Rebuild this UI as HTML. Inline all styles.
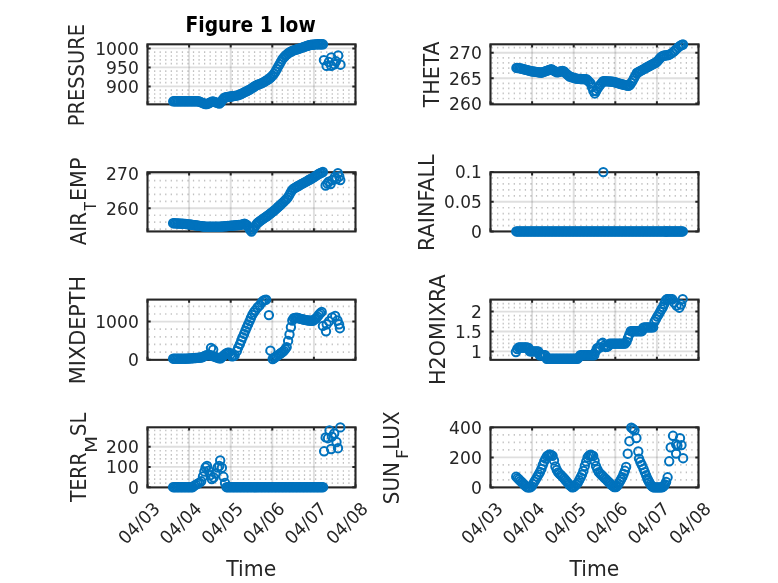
<!DOCTYPE html>
<html><head><meta charset="utf-8"><title>Figure 1 low</title>
<style>html,body{margin:0;padding:0;background:#fff}svg{display:block}</style></head>
<body>
<svg width="778" height="583" viewBox="0 0 778 583" font-family='"DejaVu Sans Condensed","Liberation Sans",sans-serif'>
<rect width="778" height="583" fill="#fff"/>
<rect x="147.5" y="44.3" width="208.00" height="60.05" fill="#fff"/>
<line x1="148.50" y1="101.60" x2="355.50" y2="101.60" stroke="#1a1a1a" stroke-opacity="0.27" stroke-width="1.7" stroke-dasharray="1.25 4.30"/>
<line x1="148.50" y1="97.80" x2="355.50" y2="97.80" stroke="#1a1a1a" stroke-opacity="0.27" stroke-width="1.7" stroke-dasharray="1.25 4.30"/>
<line x1="148.50" y1="94.00" x2="355.50" y2="94.00" stroke="#1a1a1a" stroke-opacity="0.27" stroke-width="1.7" stroke-dasharray="1.25 4.30"/>
<line x1="148.50" y1="90.20" x2="355.50" y2="90.20" stroke="#1a1a1a" stroke-opacity="0.27" stroke-width="1.7" stroke-dasharray="1.25 4.30"/>
<line x1="148.50" y1="82.60" x2="355.50" y2="82.60" stroke="#1a1a1a" stroke-opacity="0.27" stroke-width="1.7" stroke-dasharray="1.25 4.30"/>
<line x1="148.50" y1="78.80" x2="355.50" y2="78.80" stroke="#1a1a1a" stroke-opacity="0.27" stroke-width="1.7" stroke-dasharray="1.25 4.30"/>
<line x1="148.50" y1="75.00" x2="355.50" y2="75.00" stroke="#1a1a1a" stroke-opacity="0.27" stroke-width="1.7" stroke-dasharray="1.25 4.30"/>
<line x1="148.50" y1="71.20" x2="355.50" y2="71.20" stroke="#1a1a1a" stroke-opacity="0.27" stroke-width="1.7" stroke-dasharray="1.25 4.30"/>
<line x1="148.50" y1="63.60" x2="355.50" y2="63.60" stroke="#1a1a1a" stroke-opacity="0.27" stroke-width="1.7" stroke-dasharray="1.25 4.30"/>
<line x1="148.50" y1="59.80" x2="355.50" y2="59.80" stroke="#1a1a1a" stroke-opacity="0.27" stroke-width="1.7" stroke-dasharray="1.25 4.30"/>
<line x1="148.50" y1="56.00" x2="355.50" y2="56.00" stroke="#1a1a1a" stroke-opacity="0.27" stroke-width="1.7" stroke-dasharray="1.25 4.30"/>
<line x1="148.50" y1="52.20" x2="355.50" y2="52.20" stroke="#1a1a1a" stroke-opacity="0.27" stroke-width="1.7" stroke-dasharray="1.25 4.30"/>
<line x1="189.10" y1="44.3" x2="189.10" y2="104.35" stroke="#262626" stroke-opacity="0.15" stroke-width="1.9"/>
<line x1="230.70" y1="44.3" x2="230.70" y2="104.35" stroke="#262626" stroke-opacity="0.15" stroke-width="1.9"/>
<line x1="272.30" y1="44.3" x2="272.30" y2="104.35" stroke="#262626" stroke-opacity="0.15" stroke-width="1.9"/>
<line x1="313.90" y1="44.3" x2="313.90" y2="104.35" stroke="#262626" stroke-opacity="0.15" stroke-width="1.9"/>
<line x1="147.5" y1="86.40" x2="355.5" y2="86.40" stroke="#262626" stroke-opacity="0.15" stroke-width="1.9"/>
<line x1="147.5" y1="67.40" x2="355.5" y2="67.40" stroke="#262626" stroke-opacity="0.15" stroke-width="1.9"/>
<line x1="147.5" y1="48.40" x2="355.5" y2="48.40" stroke="#262626" stroke-opacity="0.15" stroke-width="1.9"/>
<rect x="490.5" y="44.3" width="208.00" height="60.05" fill="#fff"/>
<line x1="491.50" y1="98.52" x2="698.50" y2="98.52" stroke="#1a1a1a" stroke-opacity="0.27" stroke-width="1.7" stroke-dasharray="1.25 4.30"/>
<line x1="491.50" y1="93.44" x2="698.50" y2="93.44" stroke="#1a1a1a" stroke-opacity="0.27" stroke-width="1.7" stroke-dasharray="1.25 4.30"/>
<line x1="491.50" y1="88.36" x2="698.50" y2="88.36" stroke="#1a1a1a" stroke-opacity="0.27" stroke-width="1.7" stroke-dasharray="1.25 4.30"/>
<line x1="491.50" y1="83.28" x2="698.50" y2="83.28" stroke="#1a1a1a" stroke-opacity="0.27" stroke-width="1.7" stroke-dasharray="1.25 4.30"/>
<line x1="491.50" y1="73.12" x2="698.50" y2="73.12" stroke="#1a1a1a" stroke-opacity="0.27" stroke-width="1.7" stroke-dasharray="1.25 4.30"/>
<line x1="491.50" y1="68.04" x2="698.50" y2="68.04" stroke="#1a1a1a" stroke-opacity="0.27" stroke-width="1.7" stroke-dasharray="1.25 4.30"/>
<line x1="491.50" y1="62.96" x2="698.50" y2="62.96" stroke="#1a1a1a" stroke-opacity="0.27" stroke-width="1.7" stroke-dasharray="1.25 4.30"/>
<line x1="491.50" y1="57.88" x2="698.50" y2="57.88" stroke="#1a1a1a" stroke-opacity="0.27" stroke-width="1.7" stroke-dasharray="1.25 4.30"/>
<line x1="491.50" y1="47.72" x2="698.50" y2="47.72" stroke="#1a1a1a" stroke-opacity="0.27" stroke-width="1.7" stroke-dasharray="1.25 4.30"/>
<line x1="532.10" y1="44.3" x2="532.10" y2="104.35" stroke="#262626" stroke-opacity="0.15" stroke-width="1.9"/>
<line x1="573.70" y1="44.3" x2="573.70" y2="104.35" stroke="#262626" stroke-opacity="0.15" stroke-width="1.9"/>
<line x1="615.30" y1="44.3" x2="615.30" y2="104.35" stroke="#262626" stroke-opacity="0.15" stroke-width="1.9"/>
<line x1="656.90" y1="44.3" x2="656.90" y2="104.35" stroke="#262626" stroke-opacity="0.15" stroke-width="1.9"/>
<line x1="490.5" y1="78.20" x2="698.5" y2="78.20" stroke="#262626" stroke-opacity="0.15" stroke-width="1.9"/>
<line x1="490.5" y1="52.80" x2="698.5" y2="52.80" stroke="#262626" stroke-opacity="0.15" stroke-width="1.9"/>
<rect x="147.5" y="172.2" width="208.00" height="59.25" fill="#fff"/>
<line x1="148.50" y1="229.12" x2="355.50" y2="229.12" stroke="#1a1a1a" stroke-opacity="0.27" stroke-width="1.7" stroke-dasharray="1.25 4.30"/>
<line x1="148.50" y1="222.18" x2="355.50" y2="222.18" stroke="#1a1a1a" stroke-opacity="0.27" stroke-width="1.7" stroke-dasharray="1.25 4.30"/>
<line x1="148.50" y1="215.24" x2="355.50" y2="215.24" stroke="#1a1a1a" stroke-opacity="0.27" stroke-width="1.7" stroke-dasharray="1.25 4.30"/>
<line x1="148.50" y1="201.36" x2="355.50" y2="201.36" stroke="#1a1a1a" stroke-opacity="0.27" stroke-width="1.7" stroke-dasharray="1.25 4.30"/>
<line x1="148.50" y1="194.42" x2="355.50" y2="194.42" stroke="#1a1a1a" stroke-opacity="0.27" stroke-width="1.7" stroke-dasharray="1.25 4.30"/>
<line x1="148.50" y1="187.48" x2="355.50" y2="187.48" stroke="#1a1a1a" stroke-opacity="0.27" stroke-width="1.7" stroke-dasharray="1.25 4.30"/>
<line x1="148.50" y1="180.54" x2="355.50" y2="180.54" stroke="#1a1a1a" stroke-opacity="0.27" stroke-width="1.7" stroke-dasharray="1.25 4.30"/>
<line x1="189.10" y1="172.2" x2="189.10" y2="231.45" stroke="#262626" stroke-opacity="0.15" stroke-width="1.9"/>
<line x1="230.70" y1="172.2" x2="230.70" y2="231.45" stroke="#262626" stroke-opacity="0.15" stroke-width="1.9"/>
<line x1="272.30" y1="172.2" x2="272.30" y2="231.45" stroke="#262626" stroke-opacity="0.15" stroke-width="1.9"/>
<line x1="313.90" y1="172.2" x2="313.90" y2="231.45" stroke="#262626" stroke-opacity="0.15" stroke-width="1.9"/>
<line x1="147.5" y1="208.30" x2="355.5" y2="208.30" stroke="#262626" stroke-opacity="0.15" stroke-width="1.9"/>
<line x1="147.5" y1="173.60" x2="355.5" y2="173.60" stroke="#262626" stroke-opacity="0.15" stroke-width="1.9"/>
<rect x="490.5" y="172.2" width="208.00" height="59.25" fill="#fff"/>
<line x1="491.50" y1="225.64" x2="698.50" y2="225.64" stroke="#1a1a1a" stroke-opacity="0.27" stroke-width="1.7" stroke-dasharray="1.25 4.30"/>
<line x1="491.50" y1="219.68" x2="698.50" y2="219.68" stroke="#1a1a1a" stroke-opacity="0.27" stroke-width="1.7" stroke-dasharray="1.25 4.30"/>
<line x1="491.50" y1="213.72" x2="698.50" y2="213.72" stroke="#1a1a1a" stroke-opacity="0.27" stroke-width="1.7" stroke-dasharray="1.25 4.30"/>
<line x1="491.50" y1="207.76" x2="698.50" y2="207.76" stroke="#1a1a1a" stroke-opacity="0.27" stroke-width="1.7" stroke-dasharray="1.25 4.30"/>
<line x1="491.50" y1="195.84" x2="698.50" y2="195.84" stroke="#1a1a1a" stroke-opacity="0.27" stroke-width="1.7" stroke-dasharray="1.25 4.30"/>
<line x1="491.50" y1="189.88" x2="698.50" y2="189.88" stroke="#1a1a1a" stroke-opacity="0.27" stroke-width="1.7" stroke-dasharray="1.25 4.30"/>
<line x1="491.50" y1="183.92" x2="698.50" y2="183.92" stroke="#1a1a1a" stroke-opacity="0.27" stroke-width="1.7" stroke-dasharray="1.25 4.30"/>
<line x1="491.50" y1="177.96" x2="698.50" y2="177.96" stroke="#1a1a1a" stroke-opacity="0.27" stroke-width="1.7" stroke-dasharray="1.25 4.30"/>
<line x1="532.10" y1="172.2" x2="532.10" y2="231.45" stroke="#262626" stroke-opacity="0.15" stroke-width="1.9"/>
<line x1="573.70" y1="172.2" x2="573.70" y2="231.45" stroke="#262626" stroke-opacity="0.15" stroke-width="1.9"/>
<line x1="615.30" y1="172.2" x2="615.30" y2="231.45" stroke="#262626" stroke-opacity="0.15" stroke-width="1.9"/>
<line x1="656.90" y1="172.2" x2="656.90" y2="231.45" stroke="#262626" stroke-opacity="0.15" stroke-width="1.9"/>
<line x1="490.5" y1="201.80" x2="698.5" y2="201.80" stroke="#262626" stroke-opacity="0.15" stroke-width="1.9"/>
<rect x="147.5" y="299.6" width="208.00" height="60.25" fill="#fff"/>
<line x1="148.50" y1="352.08" x2="355.50" y2="352.08" stroke="#1a1a1a" stroke-opacity="0.27" stroke-width="1.7" stroke-dasharray="1.25 4.30"/>
<line x1="148.50" y1="344.46" x2="355.50" y2="344.46" stroke="#1a1a1a" stroke-opacity="0.27" stroke-width="1.7" stroke-dasharray="1.25 4.30"/>
<line x1="148.50" y1="336.84" x2="355.50" y2="336.84" stroke="#1a1a1a" stroke-opacity="0.27" stroke-width="1.7" stroke-dasharray="1.25 4.30"/>
<line x1="148.50" y1="329.22" x2="355.50" y2="329.22" stroke="#1a1a1a" stroke-opacity="0.27" stroke-width="1.7" stroke-dasharray="1.25 4.30"/>
<line x1="148.50" y1="313.98" x2="355.50" y2="313.98" stroke="#1a1a1a" stroke-opacity="0.27" stroke-width="1.7" stroke-dasharray="1.25 4.30"/>
<line x1="148.50" y1="306.36" x2="355.50" y2="306.36" stroke="#1a1a1a" stroke-opacity="0.27" stroke-width="1.7" stroke-dasharray="1.25 4.30"/>
<line x1="189.10" y1="299.6" x2="189.10" y2="359.85" stroke="#262626" stroke-opacity="0.15" stroke-width="1.9"/>
<line x1="230.70" y1="299.6" x2="230.70" y2="359.85" stroke="#262626" stroke-opacity="0.15" stroke-width="1.9"/>
<line x1="272.30" y1="299.6" x2="272.30" y2="359.85" stroke="#262626" stroke-opacity="0.15" stroke-width="1.9"/>
<line x1="313.90" y1="299.6" x2="313.90" y2="359.85" stroke="#262626" stroke-opacity="0.15" stroke-width="1.9"/>
<line x1="147.5" y1="321.60" x2="355.5" y2="321.60" stroke="#262626" stroke-opacity="0.15" stroke-width="1.9"/>
<rect x="490.5" y="299.6" width="208.00" height="60.25" fill="#fff"/>
<line x1="491.50" y1="355.38" x2="698.50" y2="355.38" stroke="#1a1a1a" stroke-opacity="0.27" stroke-width="1.7" stroke-dasharray="1.25 4.30"/>
<line x1="491.50" y1="347.42" x2="698.50" y2="347.42" stroke="#1a1a1a" stroke-opacity="0.27" stroke-width="1.7" stroke-dasharray="1.25 4.30"/>
<line x1="491.50" y1="343.44" x2="698.50" y2="343.44" stroke="#1a1a1a" stroke-opacity="0.27" stroke-width="1.7" stroke-dasharray="1.25 4.30"/>
<line x1="491.50" y1="339.46" x2="698.50" y2="339.46" stroke="#1a1a1a" stroke-opacity="0.27" stroke-width="1.7" stroke-dasharray="1.25 4.30"/>
<line x1="491.50" y1="335.48" x2="698.50" y2="335.48" stroke="#1a1a1a" stroke-opacity="0.27" stroke-width="1.7" stroke-dasharray="1.25 4.30"/>
<line x1="491.50" y1="327.52" x2="698.50" y2="327.52" stroke="#1a1a1a" stroke-opacity="0.27" stroke-width="1.7" stroke-dasharray="1.25 4.30"/>
<line x1="491.50" y1="323.54" x2="698.50" y2="323.54" stroke="#1a1a1a" stroke-opacity="0.27" stroke-width="1.7" stroke-dasharray="1.25 4.30"/>
<line x1="491.50" y1="319.56" x2="698.50" y2="319.56" stroke="#1a1a1a" stroke-opacity="0.27" stroke-width="1.7" stroke-dasharray="1.25 4.30"/>
<line x1="491.50" y1="315.58" x2="698.50" y2="315.58" stroke="#1a1a1a" stroke-opacity="0.27" stroke-width="1.7" stroke-dasharray="1.25 4.30"/>
<line x1="491.50" y1="307.62" x2="698.50" y2="307.62" stroke="#1a1a1a" stroke-opacity="0.27" stroke-width="1.7" stroke-dasharray="1.25 4.30"/>
<line x1="491.50" y1="303.64" x2="698.50" y2="303.64" stroke="#1a1a1a" stroke-opacity="0.27" stroke-width="1.7" stroke-dasharray="1.25 4.30"/>
<line x1="532.10" y1="299.6" x2="532.10" y2="359.85" stroke="#262626" stroke-opacity="0.15" stroke-width="1.9"/>
<line x1="573.70" y1="299.6" x2="573.70" y2="359.85" stroke="#262626" stroke-opacity="0.15" stroke-width="1.9"/>
<line x1="615.30" y1="299.6" x2="615.30" y2="359.85" stroke="#262626" stroke-opacity="0.15" stroke-width="1.9"/>
<line x1="656.90" y1="299.6" x2="656.90" y2="359.85" stroke="#262626" stroke-opacity="0.15" stroke-width="1.9"/>
<line x1="490.5" y1="351.40" x2="698.5" y2="351.40" stroke="#262626" stroke-opacity="0.15" stroke-width="1.9"/>
<line x1="490.5" y1="331.50" x2="698.5" y2="331.50" stroke="#262626" stroke-opacity="0.15" stroke-width="1.9"/>
<line x1="490.5" y1="311.60" x2="698.5" y2="311.60" stroke="#262626" stroke-opacity="0.15" stroke-width="1.9"/>
<rect x="147.5" y="427.3" width="208.00" height="60.10" fill="#fff"/>
<line x1="148.50" y1="483.15" x2="355.50" y2="483.15" stroke="#1a1a1a" stroke-opacity="0.27" stroke-width="1.7" stroke-dasharray="1.25 4.30"/>
<line x1="148.50" y1="479.10" x2="355.50" y2="479.10" stroke="#1a1a1a" stroke-opacity="0.27" stroke-width="1.7" stroke-dasharray="1.25 4.30"/>
<line x1="148.50" y1="475.05" x2="355.50" y2="475.05" stroke="#1a1a1a" stroke-opacity="0.27" stroke-width="1.7" stroke-dasharray="1.25 4.30"/>
<line x1="148.50" y1="471.00" x2="355.50" y2="471.00" stroke="#1a1a1a" stroke-opacity="0.27" stroke-width="1.7" stroke-dasharray="1.25 4.30"/>
<line x1="148.50" y1="462.90" x2="355.50" y2="462.90" stroke="#1a1a1a" stroke-opacity="0.27" stroke-width="1.7" stroke-dasharray="1.25 4.30"/>
<line x1="148.50" y1="458.85" x2="355.50" y2="458.85" stroke="#1a1a1a" stroke-opacity="0.27" stroke-width="1.7" stroke-dasharray="1.25 4.30"/>
<line x1="148.50" y1="454.80" x2="355.50" y2="454.80" stroke="#1a1a1a" stroke-opacity="0.27" stroke-width="1.7" stroke-dasharray="1.25 4.30"/>
<line x1="148.50" y1="450.75" x2="355.50" y2="450.75" stroke="#1a1a1a" stroke-opacity="0.27" stroke-width="1.7" stroke-dasharray="1.25 4.30"/>
<line x1="148.50" y1="442.65" x2="355.50" y2="442.65" stroke="#1a1a1a" stroke-opacity="0.27" stroke-width="1.7" stroke-dasharray="1.25 4.30"/>
<line x1="148.50" y1="438.60" x2="355.50" y2="438.60" stroke="#1a1a1a" stroke-opacity="0.27" stroke-width="1.7" stroke-dasharray="1.25 4.30"/>
<line x1="148.50" y1="434.55" x2="355.50" y2="434.55" stroke="#1a1a1a" stroke-opacity="0.27" stroke-width="1.7" stroke-dasharray="1.25 4.30"/>
<line x1="148.50" y1="430.50" x2="355.50" y2="430.50" stroke="#1a1a1a" stroke-opacity="0.27" stroke-width="1.7" stroke-dasharray="1.25 4.30"/>
<line x1="189.10" y1="427.3" x2="189.10" y2="487.4" stroke="#262626" stroke-opacity="0.15" stroke-width="1.9"/>
<line x1="230.70" y1="427.3" x2="230.70" y2="487.4" stroke="#262626" stroke-opacity="0.15" stroke-width="1.9"/>
<line x1="272.30" y1="427.3" x2="272.30" y2="487.4" stroke="#262626" stroke-opacity="0.15" stroke-width="1.9"/>
<line x1="313.90" y1="427.3" x2="313.90" y2="487.4" stroke="#262626" stroke-opacity="0.15" stroke-width="1.9"/>
<line x1="147.5" y1="466.90" x2="355.5" y2="466.90" stroke="#262626" stroke-opacity="0.15" stroke-width="1.9"/>
<line x1="147.5" y1="446.70" x2="355.5" y2="446.70" stroke="#262626" stroke-opacity="0.15" stroke-width="1.9"/>
<rect x="490.5" y="427.3" width="208.00" height="60.10" fill="#fff"/>
<line x1="491.50" y1="479.90" x2="698.50" y2="479.90" stroke="#1a1a1a" stroke-opacity="0.27" stroke-width="1.7" stroke-dasharray="1.25 4.30"/>
<line x1="491.50" y1="472.40" x2="698.50" y2="472.40" stroke="#1a1a1a" stroke-opacity="0.27" stroke-width="1.7" stroke-dasharray="1.25 4.30"/>
<line x1="491.50" y1="464.90" x2="698.50" y2="464.90" stroke="#1a1a1a" stroke-opacity="0.27" stroke-width="1.7" stroke-dasharray="1.25 4.30"/>
<line x1="491.50" y1="449.90" x2="698.50" y2="449.90" stroke="#1a1a1a" stroke-opacity="0.27" stroke-width="1.7" stroke-dasharray="1.25 4.30"/>
<line x1="491.50" y1="442.40" x2="698.50" y2="442.40" stroke="#1a1a1a" stroke-opacity="0.27" stroke-width="1.7" stroke-dasharray="1.25 4.30"/>
<line x1="491.50" y1="434.90" x2="698.50" y2="434.90" stroke="#1a1a1a" stroke-opacity="0.27" stroke-width="1.7" stroke-dasharray="1.25 4.30"/>
<line x1="532.10" y1="427.3" x2="532.10" y2="487.4" stroke="#262626" stroke-opacity="0.15" stroke-width="1.9"/>
<line x1="573.70" y1="427.3" x2="573.70" y2="487.4" stroke="#262626" stroke-opacity="0.15" stroke-width="1.9"/>
<line x1="615.30" y1="427.3" x2="615.30" y2="487.4" stroke="#262626" stroke-opacity="0.15" stroke-width="1.9"/>
<line x1="656.90" y1="427.3" x2="656.90" y2="487.4" stroke="#262626" stroke-opacity="0.15" stroke-width="1.9"/>
<line x1="490.5" y1="457.40" x2="698.5" y2="457.40" stroke="#262626" stroke-opacity="0.15" stroke-width="1.9"/>
<path d="M147.50 104.35v-3.2M147.50 44.3v3.2" stroke="#262626" stroke-width="2.0" fill="none"/>
<path d="M189.10 104.35v-3.2M189.10 44.3v3.2" stroke="#262626" stroke-width="2.0" fill="none"/>
<path d="M230.70 104.35v-3.2M230.70 44.3v3.2" stroke="#262626" stroke-width="2.0" fill="none"/>
<path d="M272.30 104.35v-3.2M272.30 44.3v3.2" stroke="#262626" stroke-width="2.0" fill="none"/>
<path d="M313.90 104.35v-3.2M313.90 44.3v3.2" stroke="#262626" stroke-width="2.0" fill="none"/>
<path d="M355.50 104.35v-3.2M355.50 44.3v3.2" stroke="#262626" stroke-width="2.0" fill="none"/>
<path d="M147.5 86.40h3.2M355.5 86.40h-3.2" stroke="#262626" stroke-width="2.0" fill="none"/>
<path d="M147.5 67.40h3.2M355.5 67.40h-3.2" stroke="#262626" stroke-width="2.0" fill="none"/>
<path d="M147.5 48.40h3.2M355.5 48.40h-3.2" stroke="#262626" stroke-width="2.0" fill="none"/>
<rect x="147.5" y="44.3" width="208.00" height="60.05" fill="none" stroke="#262626" stroke-width="2.1"/>
<text x="106.10" y="92.80" font-size="18.0" textLength="32.70" lengthAdjust="spacingAndGlyphs" fill="#262626">900</text>
<text x="106.10" y="73.80" font-size="18.0" textLength="32.70" lengthAdjust="spacingAndGlyphs" fill="#262626">950</text>
<text x="95.20" y="54.80" font-size="18.0" textLength="43.60" lengthAdjust="spacingAndGlyphs" fill="#262626">1000</text>
<path d="M490.50 104.35v-3.2M490.50 44.3v3.2" stroke="#262626" stroke-width="2.0" fill="none"/>
<path d="M532.10 104.35v-3.2M532.10 44.3v3.2" stroke="#262626" stroke-width="2.0" fill="none"/>
<path d="M573.70 104.35v-3.2M573.70 44.3v3.2" stroke="#262626" stroke-width="2.0" fill="none"/>
<path d="M615.30 104.35v-3.2M615.30 44.3v3.2" stroke="#262626" stroke-width="2.0" fill="none"/>
<path d="M656.90 104.35v-3.2M656.90 44.3v3.2" stroke="#262626" stroke-width="2.0" fill="none"/>
<path d="M698.50 104.35v-3.2M698.50 44.3v3.2" stroke="#262626" stroke-width="2.0" fill="none"/>
<path d="M490.5 103.60h3.2M698.5 103.60h-3.2" stroke="#262626" stroke-width="2.0" fill="none"/>
<path d="M490.5 78.20h3.2M698.5 78.20h-3.2" stroke="#262626" stroke-width="2.0" fill="none"/>
<path d="M490.5 52.80h3.2M698.5 52.80h-3.2" stroke="#262626" stroke-width="2.0" fill="none"/>
<rect x="490.5" y="44.3" width="208.00" height="60.05" fill="none" stroke="#262626" stroke-width="2.1"/>
<text x="449.10" y="110.00" font-size="18.0" textLength="32.70" lengthAdjust="spacingAndGlyphs" fill="#262626">260</text>
<text x="449.10" y="84.60" font-size="18.0" textLength="32.70" lengthAdjust="spacingAndGlyphs" fill="#262626">265</text>
<text x="449.10" y="59.20" font-size="18.0" textLength="32.70" lengthAdjust="spacingAndGlyphs" fill="#262626">270</text>
<path d="M147.50 231.45v-3.2M147.50 172.2v3.2" stroke="#262626" stroke-width="2.0" fill="none"/>
<path d="M189.10 231.45v-3.2M189.10 172.2v3.2" stroke="#262626" stroke-width="2.0" fill="none"/>
<path d="M230.70 231.45v-3.2M230.70 172.2v3.2" stroke="#262626" stroke-width="2.0" fill="none"/>
<path d="M272.30 231.45v-3.2M272.30 172.2v3.2" stroke="#262626" stroke-width="2.0" fill="none"/>
<path d="M313.90 231.45v-3.2M313.90 172.2v3.2" stroke="#262626" stroke-width="2.0" fill="none"/>
<path d="M355.50 231.45v-3.2M355.50 172.2v3.2" stroke="#262626" stroke-width="2.0" fill="none"/>
<path d="M147.5 208.30h3.2M355.5 208.30h-3.2" stroke="#262626" stroke-width="2.0" fill="none"/>
<path d="M147.5 173.60h3.2M355.5 173.60h-3.2" stroke="#262626" stroke-width="2.0" fill="none"/>
<rect x="147.5" y="172.2" width="208.00" height="59.25" fill="none" stroke="#262626" stroke-width="2.1"/>
<text x="106.10" y="214.70" font-size="18.0" textLength="32.70" lengthAdjust="spacingAndGlyphs" fill="#262626">260</text>
<text x="106.10" y="180.00" font-size="18.0" textLength="32.70" lengthAdjust="spacingAndGlyphs" fill="#262626">270</text>
<path d="M490.50 231.45v-3.2M490.50 172.2v3.2" stroke="#262626" stroke-width="2.0" fill="none"/>
<path d="M532.10 231.45v-3.2M532.10 172.2v3.2" stroke="#262626" stroke-width="2.0" fill="none"/>
<path d="M573.70 231.45v-3.2M573.70 172.2v3.2" stroke="#262626" stroke-width="2.0" fill="none"/>
<path d="M615.30 231.45v-3.2M615.30 172.2v3.2" stroke="#262626" stroke-width="2.0" fill="none"/>
<path d="M656.90 231.45v-3.2M656.90 172.2v3.2" stroke="#262626" stroke-width="2.0" fill="none"/>
<path d="M698.50 231.45v-3.2M698.50 172.2v3.2" stroke="#262626" stroke-width="2.0" fill="none"/>
<path d="M490.5 231.60h3.2M698.5 231.60h-3.2" stroke="#262626" stroke-width="2.0" fill="none"/>
<path d="M490.5 201.80h3.2M698.5 201.80h-3.2" stroke="#262626" stroke-width="2.0" fill="none"/>
<path d="M490.5 172.00h3.2M698.5 172.00h-3.2" stroke="#262626" stroke-width="2.0" fill="none"/>
<rect x="490.5" y="172.2" width="208.00" height="59.25" fill="none" stroke="#262626" stroke-width="2.1"/>
<text x="470.90" y="238.00" font-size="18.0" textLength="10.90" lengthAdjust="spacingAndGlyphs" fill="#262626">0</text>
<text x="444.10" y="208.20" font-size="18.0" textLength="37.70" lengthAdjust="spacingAndGlyphs" fill="#262626">0.05</text>
<text x="455.00" y="178.40" font-size="18.0" textLength="26.80" lengthAdjust="spacingAndGlyphs" fill="#262626">0.1</text>
<path d="M147.50 359.85v-3.2M147.50 299.6v3.2" stroke="#262626" stroke-width="2.0" fill="none"/>
<path d="M189.10 359.85v-3.2M189.10 299.6v3.2" stroke="#262626" stroke-width="2.0" fill="none"/>
<path d="M230.70 359.85v-3.2M230.70 299.6v3.2" stroke="#262626" stroke-width="2.0" fill="none"/>
<path d="M272.30 359.85v-3.2M272.30 299.6v3.2" stroke="#262626" stroke-width="2.0" fill="none"/>
<path d="M313.90 359.85v-3.2M313.90 299.6v3.2" stroke="#262626" stroke-width="2.0" fill="none"/>
<path d="M355.50 359.85v-3.2M355.50 299.6v3.2" stroke="#262626" stroke-width="2.0" fill="none"/>
<path d="M147.5 359.70h3.2M355.5 359.70h-3.2" stroke="#262626" stroke-width="2.0" fill="none"/>
<path d="M147.5 321.60h3.2M355.5 321.60h-3.2" stroke="#262626" stroke-width="2.0" fill="none"/>
<rect x="147.5" y="299.6" width="208.00" height="60.25" fill="none" stroke="#262626" stroke-width="2.1"/>
<text x="127.90" y="366.10" font-size="18.0" textLength="10.90" lengthAdjust="spacingAndGlyphs" fill="#262626">0</text>
<text x="95.20" y="328.00" font-size="18.0" textLength="43.60" lengthAdjust="spacingAndGlyphs" fill="#262626">1000</text>
<path d="M490.50 359.85v-3.2M490.50 299.6v3.2" stroke="#262626" stroke-width="2.0" fill="none"/>
<path d="M532.10 359.85v-3.2M532.10 299.6v3.2" stroke="#262626" stroke-width="2.0" fill="none"/>
<path d="M573.70 359.85v-3.2M573.70 299.6v3.2" stroke="#262626" stroke-width="2.0" fill="none"/>
<path d="M615.30 359.85v-3.2M615.30 299.6v3.2" stroke="#262626" stroke-width="2.0" fill="none"/>
<path d="M656.90 359.85v-3.2M656.90 299.6v3.2" stroke="#262626" stroke-width="2.0" fill="none"/>
<path d="M698.50 359.85v-3.2M698.50 299.6v3.2" stroke="#262626" stroke-width="2.0" fill="none"/>
<path d="M490.5 351.40h3.2M698.5 351.40h-3.2" stroke="#262626" stroke-width="2.0" fill="none"/>
<path d="M490.5 331.50h3.2M698.5 331.50h-3.2" stroke="#262626" stroke-width="2.0" fill="none"/>
<path d="M490.5 311.60h3.2M698.5 311.60h-3.2" stroke="#262626" stroke-width="2.0" fill="none"/>
<rect x="490.5" y="299.6" width="208.00" height="60.25" fill="none" stroke="#262626" stroke-width="2.1"/>
<text x="470.90" y="357.80" font-size="18.0" textLength="10.90" lengthAdjust="spacingAndGlyphs" fill="#262626">1</text>
<text x="455.00" y="337.90" font-size="18.0" textLength="26.80" lengthAdjust="spacingAndGlyphs" fill="#262626">1.5</text>
<text x="470.90" y="318.00" font-size="18.0" textLength="10.90" lengthAdjust="spacingAndGlyphs" fill="#262626">2</text>
<path d="M147.50 487.4v-3.2M147.50 427.3v3.2" stroke="#262626" stroke-width="2.0" fill="none"/>
<path d="M189.10 487.4v-3.2M189.10 427.3v3.2" stroke="#262626" stroke-width="2.0" fill="none"/>
<path d="M230.70 487.4v-3.2M230.70 427.3v3.2" stroke="#262626" stroke-width="2.0" fill="none"/>
<path d="M272.30 487.4v-3.2M272.30 427.3v3.2" stroke="#262626" stroke-width="2.0" fill="none"/>
<path d="M313.90 487.4v-3.2M313.90 427.3v3.2" stroke="#262626" stroke-width="2.0" fill="none"/>
<path d="M355.50 487.4v-3.2M355.50 427.3v3.2" stroke="#262626" stroke-width="2.0" fill="none"/>
<path d="M147.5 487.20h3.2M355.5 487.20h-3.2" stroke="#262626" stroke-width="2.0" fill="none"/>
<path d="M147.5 466.90h3.2M355.5 466.90h-3.2" stroke="#262626" stroke-width="2.0" fill="none"/>
<path d="M147.5 446.70h3.2M355.5 446.70h-3.2" stroke="#262626" stroke-width="2.0" fill="none"/>
<rect x="147.5" y="427.3" width="208.00" height="60.10" fill="none" stroke="#262626" stroke-width="2.1"/>
<text x="127.90" y="493.60" font-size="18.0" textLength="10.90" lengthAdjust="spacingAndGlyphs" fill="#262626">0</text>
<text x="106.10" y="473.30" font-size="18.0" textLength="32.70" lengthAdjust="spacingAndGlyphs" fill="#262626">100</text>
<text x="106.10" y="453.10" font-size="18.0" textLength="32.70" lengthAdjust="spacingAndGlyphs" fill="#262626">200</text>
<text transform="translate(161.10,509.90) rotate(-45)" font-size="18.0" text-anchor="end" textLength="50.0" lengthAdjust="spacingAndGlyphs" fill="#262626">04/03</text>
<text transform="translate(202.70,509.90) rotate(-45)" font-size="18.0" text-anchor="end" textLength="50.0" lengthAdjust="spacingAndGlyphs" fill="#262626">04/04</text>
<text transform="translate(244.30,509.90) rotate(-45)" font-size="18.0" text-anchor="end" textLength="50.0" lengthAdjust="spacingAndGlyphs" fill="#262626">04/05</text>
<text transform="translate(285.90,509.90) rotate(-45)" font-size="18.0" text-anchor="end" textLength="50.0" lengthAdjust="spacingAndGlyphs" fill="#262626">04/06</text>
<text transform="translate(327.50,509.90) rotate(-45)" font-size="18.0" text-anchor="end" textLength="50.0" lengthAdjust="spacingAndGlyphs" fill="#262626">04/07</text>
<text transform="translate(369.10,509.90) rotate(-45)" font-size="18.0" text-anchor="end" textLength="50.0" lengthAdjust="spacingAndGlyphs" fill="#262626">04/08</text>
<path d="M490.50 487.4v-3.2M490.50 427.3v3.2" stroke="#262626" stroke-width="2.0" fill="none"/>
<path d="M532.10 487.4v-3.2M532.10 427.3v3.2" stroke="#262626" stroke-width="2.0" fill="none"/>
<path d="M573.70 487.4v-3.2M573.70 427.3v3.2" stroke="#262626" stroke-width="2.0" fill="none"/>
<path d="M615.30 487.4v-3.2M615.30 427.3v3.2" stroke="#262626" stroke-width="2.0" fill="none"/>
<path d="M656.90 487.4v-3.2M656.90 427.3v3.2" stroke="#262626" stroke-width="2.0" fill="none"/>
<path d="M698.50 487.4v-3.2M698.50 427.3v3.2" stroke="#262626" stroke-width="2.0" fill="none"/>
<path d="M490.5 487.40h3.2M698.5 487.40h-3.2" stroke="#262626" stroke-width="2.0" fill="none"/>
<path d="M490.5 457.40h3.2M698.5 457.40h-3.2" stroke="#262626" stroke-width="2.0" fill="none"/>
<path d="M490.5 427.40h3.2M698.5 427.40h-3.2" stroke="#262626" stroke-width="2.0" fill="none"/>
<rect x="490.5" y="427.3" width="208.00" height="60.10" fill="none" stroke="#262626" stroke-width="2.1"/>
<text x="470.90" y="493.80" font-size="18.0" textLength="10.90" lengthAdjust="spacingAndGlyphs" fill="#262626">0</text>
<text x="449.10" y="463.80" font-size="18.0" textLength="32.70" lengthAdjust="spacingAndGlyphs" fill="#262626">200</text>
<text x="449.10" y="433.80" font-size="18.0" textLength="32.70" lengthAdjust="spacingAndGlyphs" fill="#262626">400</text>
<text transform="translate(504.10,509.90) rotate(-45)" font-size="18.0" text-anchor="end" textLength="50.0" lengthAdjust="spacingAndGlyphs" fill="#262626">04/03</text>
<text transform="translate(545.70,509.90) rotate(-45)" font-size="18.0" text-anchor="end" textLength="50.0" lengthAdjust="spacingAndGlyphs" fill="#262626">04/04</text>
<text transform="translate(587.30,509.90) rotate(-45)" font-size="18.0" text-anchor="end" textLength="50.0" lengthAdjust="spacingAndGlyphs" fill="#262626">04/05</text>
<text transform="translate(628.90,509.90) rotate(-45)" font-size="18.0" text-anchor="end" textLength="50.0" lengthAdjust="spacingAndGlyphs" fill="#262626">04/06</text>
<text transform="translate(670.50,509.90) rotate(-45)" font-size="18.0" text-anchor="end" textLength="50.0" lengthAdjust="spacingAndGlyphs" fill="#262626">04/07</text>
<text transform="translate(712.10,509.90) rotate(-45)" font-size="18.0" text-anchor="end" textLength="50.0" lengthAdjust="spacingAndGlyphs" fill="#262626">04/08</text>
<g fill="none" stroke="#0072BD" stroke-width="2.0">
<circle cx="173.20" cy="101.30" r="4.18"/>
<circle cx="174.60" cy="101.30" r="4.18"/>
<circle cx="176.00" cy="101.30" r="4.18"/>
<circle cx="177.40" cy="101.30" r="4.18"/>
<circle cx="178.80" cy="101.30" r="4.18"/>
<circle cx="180.20" cy="101.30" r="4.18"/>
<circle cx="181.60" cy="101.30" r="4.18"/>
<circle cx="183.00" cy="101.30" r="4.18"/>
<circle cx="184.40" cy="101.30" r="4.18"/>
<circle cx="185.80" cy="101.30" r="4.18"/>
<circle cx="187.20" cy="101.30" r="4.18"/>
<circle cx="188.60" cy="101.30" r="4.18"/>
<circle cx="190.00" cy="101.30" r="4.18"/>
<circle cx="191.40" cy="101.30" r="4.18"/>
<circle cx="192.80" cy="101.30" r="4.18"/>
<circle cx="194.20" cy="101.30" r="4.18"/>
<circle cx="195.60" cy="101.30" r="4.18"/>
<circle cx="197.00" cy="101.30" r="4.18"/>
<circle cx="198.40" cy="101.30" r="4.18"/>
<circle cx="199.80" cy="101.78" r="4.18"/>
<circle cx="201.20" cy="102.35" r="4.18"/>
<circle cx="202.60" cy="102.91" r="4.18"/>
<circle cx="204.00" cy="103.47" r="4.18"/>
<circle cx="205.40" cy="104.04" r="4.18"/>
<circle cx="206.80" cy="104.16" r="4.18"/>
<circle cx="208.20" cy="103.48" r="4.18"/>
<circle cx="209.60" cy="102.80" r="4.18"/>
<circle cx="211.00" cy="102.12" r="4.18"/>
<circle cx="212.40" cy="101.45" r="4.18"/>
<circle cx="213.80" cy="101.69" r="4.18"/>
<circle cx="215.20" cy="102.18" r="4.18"/>
<circle cx="216.60" cy="102.67" r="4.18"/>
<circle cx="218.00" cy="103.17" r="4.18"/>
<circle cx="219.40" cy="103.66" r="4.18"/>
<circle cx="220.80" cy="102.40" r="4.18"/>
<circle cx="222.20" cy="100.44" r="4.18"/>
<circle cx="223.60" cy="98.48" r="4.18"/>
<circle cx="225.00" cy="97.39" r="4.18"/>
<circle cx="226.40" cy="97.17" r="4.18"/>
<circle cx="227.80" cy="96.95" r="4.18"/>
<circle cx="229.20" cy="96.73" r="4.18"/>
<circle cx="230.60" cy="96.52" r="4.18"/>
<circle cx="232.00" cy="96.30" r="4.18"/>
<circle cx="233.40" cy="96.08" r="4.18"/>
<circle cx="234.80" cy="95.86" r="4.18"/>
<circle cx="236.20" cy="95.64" r="4.18"/>
<circle cx="237.60" cy="95.33" r="4.18"/>
<circle cx="239.00" cy="94.84" r="4.18"/>
<circle cx="240.40" cy="94.30" r="4.18"/>
<circle cx="241.80" cy="93.60" r="4.18"/>
<circle cx="243.20" cy="92.90" r="4.18"/>
<circle cx="244.60" cy="92.20" r="4.18"/>
<circle cx="246.00" cy="91.50" r="4.18"/>
<circle cx="247.40" cy="90.80" r="4.18"/>
<circle cx="248.80" cy="90.10" r="4.18"/>
<circle cx="250.20" cy="89.36" r="4.18"/>
<circle cx="251.60" cy="88.42" r="4.18"/>
<circle cx="253.00" cy="87.47" r="4.18"/>
<circle cx="254.40" cy="86.52" r="4.18"/>
<circle cx="255.80" cy="85.57" r="4.18"/>
<circle cx="257.20" cy="84.95" r="4.18"/>
<circle cx="258.60" cy="84.45" r="4.18"/>
<circle cx="260.00" cy="83.96" r="4.18"/>
<circle cx="261.40" cy="83.44" r="4.18"/>
<circle cx="262.80" cy="82.63" r="4.18"/>
<circle cx="264.20" cy="81.83" r="4.18"/>
<circle cx="265.60" cy="81.02" r="4.18"/>
<circle cx="267.00" cy="80.16" r="4.18"/>
<circle cx="268.40" cy="79.22" r="4.18"/>
<circle cx="269.80" cy="78.27" r="4.18"/>
<circle cx="271.20" cy="77.00" r="4.18"/>
<circle cx="272.60" cy="75.40" r="4.18"/>
<circle cx="274.00" cy="73.80" r="4.18"/>
<circle cx="275.40" cy="71.72" r="4.18"/>
<circle cx="276.80" cy="69.17" r="4.18"/>
<circle cx="278.20" cy="66.62" r="4.18"/>
<circle cx="279.60" cy="64.06" r="4.18"/>
<circle cx="281.00" cy="61.60" r="4.18"/>
<circle cx="282.40" cy="59.15" r="4.18"/>
<circle cx="283.80" cy="57.43" r="4.18"/>
<circle cx="285.20" cy="55.84" r="4.18"/>
<circle cx="286.60" cy="54.61" r="4.18"/>
<circle cx="288.00" cy="53.49" r="4.18"/>
<circle cx="289.40" cy="52.45" r="4.18"/>
<circle cx="290.80" cy="51.73" r="4.18"/>
<circle cx="292.20" cy="51.01" r="4.18"/>
<circle cx="293.60" cy="50.37" r="4.18"/>
<circle cx="295.00" cy="49.92" r="4.18"/>
<circle cx="296.40" cy="49.47" r="4.18"/>
<circle cx="297.80" cy="49.02" r="4.18"/>
<circle cx="299.20" cy="48.56" r="4.18"/>
<circle cx="300.60" cy="48.09" r="4.18"/>
<circle cx="302.00" cy="47.62" r="4.18"/>
<circle cx="303.40" cy="47.15" r="4.18"/>
<circle cx="304.80" cy="46.67" r="4.18"/>
<circle cx="306.20" cy="46.20" r="4.18"/>
<circle cx="307.60" cy="45.72" r="4.18"/>
<circle cx="309.00" cy="45.24" r="4.18"/>
<circle cx="310.40" cy="44.86" r="4.18"/>
<circle cx="311.80" cy="44.72" r="4.18"/>
<circle cx="313.20" cy="44.58" r="4.18"/>
<circle cx="314.60" cy="44.45" r="4.18"/>
<circle cx="316.00" cy="44.31" r="4.18"/>
<circle cx="317.40" cy="44.21" r="4.18"/>
<circle cx="318.80" cy="44.23" r="4.18"/>
<circle cx="320.20" cy="44.25" r="4.18"/>
<circle cx="321.60" cy="44.28" r="4.18"/>
<circle cx="323.00" cy="44.30" r="4.18"/>
<circle cx="323.90" cy="60.10" r="4.18"/>
<circle cx="326.60" cy="65.90" r="4.18"/>
<circle cx="328.90" cy="62.00" r="4.18"/>
<circle cx="331.30" cy="57.40" r="4.18"/>
<circle cx="331.30" cy="65.90" r="4.18"/>
<circle cx="334.30" cy="64.30" r="4.18"/>
<circle cx="335.90" cy="61.30" r="4.18"/>
<circle cx="338.20" cy="55.50" r="4.18"/>
<circle cx="340.50" cy="64.70" r="4.18"/>
<circle cx="516.40" cy="67.90" r="4.18"/>
<circle cx="517.80" cy="68.04" r="4.18"/>
<circle cx="519.20" cy="68.18" r="4.18"/>
<circle cx="520.60" cy="68.35" r="4.18"/>
<circle cx="522.00" cy="68.72" r="4.18"/>
<circle cx="523.40" cy="69.10" r="4.18"/>
<circle cx="524.80" cy="69.47" r="4.18"/>
<circle cx="526.20" cy="69.84" r="4.18"/>
<circle cx="527.60" cy="70.21" r="4.18"/>
<circle cx="529.00" cy="70.58" r="4.18"/>
<circle cx="530.40" cy="70.95" r="4.18"/>
<circle cx="531.80" cy="71.31" r="4.18"/>
<circle cx="533.20" cy="71.51" r="4.18"/>
<circle cx="534.60" cy="71.71" r="4.18"/>
<circle cx="536.00" cy="71.91" r="4.18"/>
<circle cx="537.40" cy="72.11" r="4.18"/>
<circle cx="538.80" cy="72.30" r="4.18"/>
<circle cx="540.20" cy="72.50" r="4.18"/>
<circle cx="541.60" cy="72.70" r="4.18"/>
<circle cx="543.00" cy="72.19" r="4.18"/>
<circle cx="544.40" cy="71.69" r="4.18"/>
<circle cx="545.80" cy="71.18" r="4.18"/>
<circle cx="547.20" cy="70.68" r="4.18"/>
<circle cx="548.60" cy="70.17" r="4.18"/>
<circle cx="550.00" cy="69.67" r="4.18"/>
<circle cx="551.40" cy="69.26" r="4.18"/>
<circle cx="552.80" cy="70.07" r="4.18"/>
<circle cx="554.20" cy="70.89" r="4.18"/>
<circle cx="555.60" cy="71.70" r="4.18"/>
<circle cx="557.00" cy="72.35" r="4.18"/>
<circle cx="558.40" cy="72.00" r="4.18"/>
<circle cx="559.80" cy="71.65" r="4.18"/>
<circle cx="561.20" cy="71.30" r="4.18"/>
<circle cx="562.60" cy="70.95" r="4.18"/>
<circle cx="564.00" cy="71.52" r="4.18"/>
<circle cx="565.40" cy="72.79" r="4.18"/>
<circle cx="566.80" cy="74.06" r="4.18"/>
<circle cx="568.20" cy="75.32" r="4.18"/>
<circle cx="569.60" cy="76.53" r="4.18"/>
<circle cx="571.00" cy="76.96" r="4.18"/>
<circle cx="572.40" cy="77.39" r="4.18"/>
<circle cx="573.80" cy="77.82" r="4.18"/>
<circle cx="575.20" cy="78.25" r="4.18"/>
<circle cx="576.60" cy="78.68" r="4.18"/>
<circle cx="578.00" cy="78.85" r="4.18"/>
<circle cx="579.40" cy="78.92" r="4.18"/>
<circle cx="580.80" cy="78.99" r="4.18"/>
<circle cx="582.20" cy="79.07" r="4.18"/>
<circle cx="583.60" cy="79.14" r="4.18"/>
<circle cx="585.00" cy="79.21" r="4.18"/>
<circle cx="586.40" cy="79.28" r="4.18"/>
<circle cx="587.80" cy="80.38" r="4.18"/>
<circle cx="589.20" cy="81.88" r="4.18"/>
<circle cx="590.60" cy="83.39" r="4.18"/>
<circle cx="592.00" cy="87.17" r="4.18"/>
<circle cx="593.40" cy="90.95" r="4.18"/>
<circle cx="594.80" cy="93.45" r="4.18"/>
<circle cx="596.20" cy="91.00" r="4.18"/>
<circle cx="597.60" cy="88.45" r="4.18"/>
<circle cx="599.00" cy="86.28" r="4.18"/>
<circle cx="600.40" cy="84.60" r="4.18"/>
<circle cx="601.80" cy="82.92" r="4.18"/>
<circle cx="603.20" cy="81.24" r="4.18"/>
<circle cx="604.60" cy="81.10" r="4.18"/>
<circle cx="606.00" cy="81.21" r="4.18"/>
<circle cx="607.40" cy="81.32" r="4.18"/>
<circle cx="608.80" cy="81.43" r="4.18"/>
<circle cx="610.20" cy="81.54" r="4.18"/>
<circle cx="611.60" cy="81.66" r="4.18"/>
<circle cx="613.00" cy="81.77" r="4.18"/>
<circle cx="614.40" cy="82.10" r="4.18"/>
<circle cx="615.80" cy="82.51" r="4.18"/>
<circle cx="617.20" cy="82.93" r="4.18"/>
<circle cx="618.60" cy="83.35" r="4.18"/>
<circle cx="620.00" cy="83.76" r="4.18"/>
<circle cx="621.40" cy="84.18" r="4.18"/>
<circle cx="622.80" cy="84.53" r="4.18"/>
<circle cx="624.20" cy="84.84" r="4.18"/>
<circle cx="625.60" cy="85.16" r="4.18"/>
<circle cx="627.00" cy="85.48" r="4.18"/>
<circle cx="628.40" cy="85.80" r="4.18"/>
<circle cx="629.80" cy="85.21" r="4.18"/>
<circle cx="631.20" cy="83.01" r="4.18"/>
<circle cx="632.60" cy="80.80" r="4.18"/>
<circle cx="634.00" cy="78.20" r="4.18"/>
<circle cx="635.40" cy="75.60" r="4.18"/>
<circle cx="636.80" cy="73.00" r="4.18"/>
<circle cx="638.20" cy="72.22" r="4.18"/>
<circle cx="639.60" cy="71.43" r="4.18"/>
<circle cx="641.00" cy="70.65" r="4.18"/>
<circle cx="642.40" cy="69.86" r="4.18"/>
<circle cx="643.80" cy="69.08" r="4.18"/>
<circle cx="645.20" cy="68.30" r="4.18"/>
<circle cx="646.60" cy="67.51" r="4.18"/>
<circle cx="648.00" cy="66.76" r="4.18"/>
<circle cx="649.40" cy="66.01" r="4.18"/>
<circle cx="650.80" cy="65.26" r="4.18"/>
<circle cx="652.20" cy="64.51" r="4.18"/>
<circle cx="653.60" cy="63.76" r="4.18"/>
<circle cx="655.00" cy="63.02" r="4.18"/>
<circle cx="656.40" cy="62.27" r="4.18"/>
<circle cx="657.80" cy="60.90" r="4.18"/>
<circle cx="659.20" cy="59.19" r="4.18"/>
<circle cx="660.60" cy="57.52" r="4.18"/>
<circle cx="662.00" cy="56.33" r="4.18"/>
<circle cx="663.40" cy="55.76" r="4.18"/>
<circle cx="664.80" cy="55.53" r="4.18"/>
<circle cx="666.50" cy="55.30" r="4.18"/>
<circle cx="668.20" cy="55.00" r="4.18"/>
<circle cx="670.30" cy="54.20" r="4.18"/>
<circle cx="672.50" cy="52.60" r="4.18"/>
<circle cx="674.40" cy="51.00" r="4.18"/>
<circle cx="676.30" cy="49.20" r="4.18"/>
<circle cx="678.20" cy="47.40" r="4.18"/>
<circle cx="680.00" cy="45.90" r="4.18"/>
<circle cx="681.60" cy="45.00" r="4.18"/>
<circle cx="683.00" cy="44.50" r="4.18"/>
<circle cx="173.10" cy="223.20" r="4.18"/>
<circle cx="174.50" cy="223.28" r="4.18"/>
<circle cx="175.90" cy="223.37" r="4.18"/>
<circle cx="177.30" cy="223.45" r="4.18"/>
<circle cx="178.70" cy="223.54" r="4.18"/>
<circle cx="180.10" cy="223.62" r="4.18"/>
<circle cx="181.50" cy="223.71" r="4.18"/>
<circle cx="182.90" cy="223.79" r="4.18"/>
<circle cx="184.30" cy="223.88" r="4.18"/>
<circle cx="185.70" cy="223.96" r="4.18"/>
<circle cx="187.10" cy="224.11" r="4.18"/>
<circle cx="188.50" cy="224.31" r="4.18"/>
<circle cx="189.90" cy="224.51" r="4.18"/>
<circle cx="191.30" cy="224.70" r="4.18"/>
<circle cx="192.70" cy="224.90" r="4.18"/>
<circle cx="194.10" cy="225.10" r="4.18"/>
<circle cx="195.50" cy="225.29" r="4.18"/>
<circle cx="196.90" cy="225.49" r="4.18"/>
<circle cx="198.30" cy="225.69" r="4.18"/>
<circle cx="199.70" cy="225.88" r="4.18"/>
<circle cx="201.10" cy="226.08" r="4.18"/>
<circle cx="202.50" cy="226.28" r="4.18"/>
<circle cx="203.90" cy="226.47" r="4.18"/>
<circle cx="205.30" cy="226.60" r="4.18"/>
<circle cx="206.70" cy="226.60" r="4.18"/>
<circle cx="208.10" cy="226.60" r="4.18"/>
<circle cx="209.50" cy="226.60" r="4.18"/>
<circle cx="210.90" cy="226.60" r="4.18"/>
<circle cx="212.30" cy="226.60" r="4.18"/>
<circle cx="213.70" cy="226.60" r="4.18"/>
<circle cx="215.10" cy="226.60" r="4.18"/>
<circle cx="216.50" cy="226.60" r="4.18"/>
<circle cx="217.90" cy="226.60" r="4.18"/>
<circle cx="219.30" cy="226.60" r="4.18"/>
<circle cx="220.70" cy="226.56" r="4.18"/>
<circle cx="222.10" cy="226.45" r="4.18"/>
<circle cx="223.50" cy="226.33" r="4.18"/>
<circle cx="224.90" cy="226.22" r="4.18"/>
<circle cx="226.30" cy="226.10" r="4.18"/>
<circle cx="227.70" cy="225.99" r="4.18"/>
<circle cx="229.10" cy="225.88" r="4.18"/>
<circle cx="230.50" cy="225.76" r="4.18"/>
<circle cx="231.90" cy="225.65" r="4.18"/>
<circle cx="233.30" cy="225.52" r="4.18"/>
<circle cx="234.70" cy="225.39" r="4.18"/>
<circle cx="236.10" cy="225.26" r="4.18"/>
<circle cx="237.50" cy="225.13" r="4.18"/>
<circle cx="238.90" cy="225.00" r="4.18"/>
<circle cx="240.30" cy="224.87" r="4.18"/>
<circle cx="241.70" cy="224.57" r="4.18"/>
<circle cx="243.10" cy="224.10" r="4.18"/>
<circle cx="244.50" cy="223.63" r="4.18"/>
<circle cx="245.90" cy="224.45" r="4.18"/>
<circle cx="247.30" cy="225.37" r="4.18"/>
<circle cx="248.70" cy="227.59" r="4.18"/>
<circle cx="250.10" cy="229.87" r="4.18"/>
<circle cx="251.50" cy="231.60" r="4.18"/>
<circle cx="252.90" cy="229.46" r="4.18"/>
<circle cx="254.30" cy="227.38" r="4.18"/>
<circle cx="255.70" cy="225.30" r="4.18"/>
<circle cx="257.10" cy="223.45" r="4.18"/>
<circle cx="258.50" cy="222.23" r="4.18"/>
<circle cx="259.90" cy="221.14" r="4.18"/>
<circle cx="261.30" cy="220.12" r="4.18"/>
<circle cx="262.70" cy="219.09" r="4.18"/>
<circle cx="264.10" cy="218.13" r="4.18"/>
<circle cx="265.50" cy="217.18" r="4.18"/>
<circle cx="266.90" cy="216.24" r="4.18"/>
<circle cx="268.30" cy="215.26" r="4.18"/>
<circle cx="269.70" cy="214.14" r="4.18"/>
<circle cx="271.10" cy="213.02" r="4.18"/>
<circle cx="272.50" cy="211.90" r="4.18"/>
<circle cx="273.90" cy="210.78" r="4.18"/>
<circle cx="275.30" cy="209.57" r="4.18"/>
<circle cx="276.70" cy="208.30" r="4.18"/>
<circle cx="278.10" cy="207.02" r="4.18"/>
<circle cx="279.50" cy="205.75" r="4.18"/>
<circle cx="280.90" cy="204.47" r="4.18"/>
<circle cx="282.30" cy="203.20" r="4.18"/>
<circle cx="283.70" cy="201.80" r="4.18"/>
<circle cx="285.10" cy="200.40" r="4.18"/>
<circle cx="286.50" cy="199.00" r="4.18"/>
<circle cx="287.90" cy="197.36" r="4.18"/>
<circle cx="289.30" cy="195.12" r="4.18"/>
<circle cx="290.70" cy="192.40" r="4.18"/>
<circle cx="292.10" cy="190.19" r="4.18"/>
<circle cx="293.50" cy="188.73" r="4.18"/>
<circle cx="294.90" cy="187.81" r="4.18"/>
<circle cx="296.30" cy="187.04" r="4.18"/>
<circle cx="297.70" cy="186.26" r="4.18"/>
<circle cx="299.10" cy="185.47" r="4.18"/>
<circle cx="300.50" cy="184.69" r="4.18"/>
<circle cx="301.90" cy="183.90" r="4.18"/>
<circle cx="303.30" cy="183.12" r="4.18"/>
<circle cx="304.70" cy="182.34" r="4.18"/>
<circle cx="306.10" cy="181.57" r="4.18"/>
<circle cx="307.50" cy="180.80" r="4.18"/>
<circle cx="308.90" cy="180.03" r="4.18"/>
<circle cx="310.30" cy="179.26" r="4.18"/>
<circle cx="311.70" cy="178.49" r="4.18"/>
<circle cx="313.10" cy="177.67" r="4.18"/>
<circle cx="314.50" cy="176.74" r="4.18"/>
<circle cx="315.90" cy="175.82" r="4.18"/>
<circle cx="317.30" cy="174.89" r="4.18"/>
<circle cx="318.70" cy="173.97" r="4.18"/>
<circle cx="320.10" cy="173.28" r="4.18"/>
<circle cx="321.50" cy="172.62" r="4.18"/>
<circle cx="322.90" cy="172.00" r="4.18"/>
<circle cx="325.60" cy="185.50" r="4.18"/>
<circle cx="327.40" cy="183.50" r="4.18"/>
<circle cx="328.70" cy="181.60" r="4.18"/>
<circle cx="330.60" cy="184.00" r="4.18"/>
<circle cx="332.50" cy="180.00" r="4.18"/>
<circle cx="334.90" cy="177.00" r="4.18"/>
<circle cx="336.50" cy="179.00" r="4.18"/>
<circle cx="337.90" cy="173.10" r="4.18"/>
<circle cx="339.30" cy="176.50" r="4.18"/>
<circle cx="340.30" cy="180.10" r="4.18"/>
<circle cx="516.30" cy="231.45" r="4.18"/>
<circle cx="517.70" cy="231.45" r="4.18"/>
<circle cx="519.10" cy="231.45" r="4.18"/>
<circle cx="520.50" cy="231.45" r="4.18"/>
<circle cx="521.90" cy="231.45" r="4.18"/>
<circle cx="523.30" cy="231.45" r="4.18"/>
<circle cx="524.70" cy="231.45" r="4.18"/>
<circle cx="526.10" cy="231.45" r="4.18"/>
<circle cx="527.50" cy="231.45" r="4.18"/>
<circle cx="528.90" cy="231.45" r="4.18"/>
<circle cx="530.30" cy="231.45" r="4.18"/>
<circle cx="531.70" cy="231.45" r="4.18"/>
<circle cx="533.10" cy="231.45" r="4.18"/>
<circle cx="534.50" cy="231.45" r="4.18"/>
<circle cx="535.90" cy="231.45" r="4.18"/>
<circle cx="537.30" cy="231.45" r="4.18"/>
<circle cx="538.70" cy="231.45" r="4.18"/>
<circle cx="540.10" cy="231.45" r="4.18"/>
<circle cx="541.50" cy="231.45" r="4.18"/>
<circle cx="542.90" cy="231.45" r="4.18"/>
<circle cx="544.30" cy="231.45" r="4.18"/>
<circle cx="545.70" cy="231.45" r="4.18"/>
<circle cx="547.10" cy="231.45" r="4.18"/>
<circle cx="548.50" cy="231.45" r="4.18"/>
<circle cx="549.90" cy="231.45" r="4.18"/>
<circle cx="551.30" cy="231.45" r="4.18"/>
<circle cx="552.70" cy="231.45" r="4.18"/>
<circle cx="554.10" cy="231.45" r="4.18"/>
<circle cx="555.50" cy="231.45" r="4.18"/>
<circle cx="556.90" cy="231.45" r="4.18"/>
<circle cx="558.30" cy="231.45" r="4.18"/>
<circle cx="559.70" cy="231.45" r="4.18"/>
<circle cx="561.10" cy="231.45" r="4.18"/>
<circle cx="562.50" cy="231.45" r="4.18"/>
<circle cx="563.90" cy="231.45" r="4.18"/>
<circle cx="565.30" cy="231.45" r="4.18"/>
<circle cx="566.70" cy="231.45" r="4.18"/>
<circle cx="568.10" cy="231.45" r="4.18"/>
<circle cx="569.50" cy="231.45" r="4.18"/>
<circle cx="570.90" cy="231.45" r="4.18"/>
<circle cx="572.30" cy="231.45" r="4.18"/>
<circle cx="573.70" cy="231.45" r="4.18"/>
<circle cx="575.10" cy="231.45" r="4.18"/>
<circle cx="576.50" cy="231.45" r="4.18"/>
<circle cx="577.90" cy="231.45" r="4.18"/>
<circle cx="579.30" cy="231.45" r="4.18"/>
<circle cx="580.70" cy="231.45" r="4.18"/>
<circle cx="582.10" cy="231.45" r="4.18"/>
<circle cx="583.50" cy="231.45" r="4.18"/>
<circle cx="584.90" cy="231.45" r="4.18"/>
<circle cx="586.30" cy="231.45" r="4.18"/>
<circle cx="587.70" cy="231.45" r="4.18"/>
<circle cx="589.10" cy="231.45" r="4.18"/>
<circle cx="590.50" cy="231.45" r="4.18"/>
<circle cx="591.90" cy="231.45" r="4.18"/>
<circle cx="593.30" cy="231.45" r="4.18"/>
<circle cx="594.70" cy="231.45" r="4.18"/>
<circle cx="596.10" cy="231.45" r="4.18"/>
<circle cx="597.50" cy="231.45" r="4.18"/>
<circle cx="598.90" cy="231.45" r="4.18"/>
<circle cx="600.30" cy="231.45" r="4.18"/>
<circle cx="601.70" cy="231.45" r="4.18"/>
<circle cx="603.10" cy="231.45" r="4.18"/>
<circle cx="604.50" cy="231.45" r="4.18"/>
<circle cx="605.90" cy="231.45" r="4.18"/>
<circle cx="607.30" cy="231.45" r="4.18"/>
<circle cx="608.70" cy="231.45" r="4.18"/>
<circle cx="610.10" cy="231.45" r="4.18"/>
<circle cx="611.50" cy="231.45" r="4.18"/>
<circle cx="612.90" cy="231.45" r="4.18"/>
<circle cx="614.30" cy="231.45" r="4.18"/>
<circle cx="615.70" cy="231.45" r="4.18"/>
<circle cx="617.10" cy="231.45" r="4.18"/>
<circle cx="618.50" cy="231.45" r="4.18"/>
<circle cx="619.90" cy="231.45" r="4.18"/>
<circle cx="621.30" cy="231.45" r="4.18"/>
<circle cx="622.70" cy="231.45" r="4.18"/>
<circle cx="624.10" cy="231.45" r="4.18"/>
<circle cx="625.50" cy="231.45" r="4.18"/>
<circle cx="626.90" cy="231.45" r="4.18"/>
<circle cx="628.30" cy="231.45" r="4.18"/>
<circle cx="629.70" cy="231.45" r="4.18"/>
<circle cx="631.10" cy="231.45" r="4.18"/>
<circle cx="632.50" cy="231.45" r="4.18"/>
<circle cx="633.90" cy="231.45" r="4.18"/>
<circle cx="635.30" cy="231.45" r="4.18"/>
<circle cx="636.70" cy="231.45" r="4.18"/>
<circle cx="638.10" cy="231.45" r="4.18"/>
<circle cx="639.50" cy="231.45" r="4.18"/>
<circle cx="640.90" cy="231.45" r="4.18"/>
<circle cx="642.30" cy="231.45" r="4.18"/>
<circle cx="643.70" cy="231.45" r="4.18"/>
<circle cx="645.10" cy="231.45" r="4.18"/>
<circle cx="646.50" cy="231.45" r="4.18"/>
<circle cx="647.90" cy="231.45" r="4.18"/>
<circle cx="649.30" cy="231.45" r="4.18"/>
<circle cx="650.70" cy="231.45" r="4.18"/>
<circle cx="652.10" cy="231.45" r="4.18"/>
<circle cx="653.50" cy="231.45" r="4.18"/>
<circle cx="654.90" cy="231.45" r="4.18"/>
<circle cx="656.30" cy="231.45" r="4.18"/>
<circle cx="657.70" cy="231.45" r="4.18"/>
<circle cx="659.10" cy="231.45" r="4.18"/>
<circle cx="660.50" cy="231.45" r="4.18"/>
<circle cx="661.90" cy="231.45" r="4.18"/>
<circle cx="663.30" cy="231.45" r="4.18"/>
<circle cx="664.70" cy="231.45" r="4.18"/>
<circle cx="666.10" cy="231.45" r="4.18"/>
<circle cx="666.00" cy="231.45" r="4.18"/>
<circle cx="667.20" cy="231.45" r="4.18"/>
<circle cx="668.40" cy="231.45" r="4.18"/>
<circle cx="669.60" cy="231.45" r="4.18"/>
<circle cx="670.80" cy="231.45" r="4.18"/>
<circle cx="672.00" cy="231.45" r="4.18"/>
<circle cx="673.20" cy="231.45" r="4.18"/>
<circle cx="674.40" cy="231.45" r="4.18"/>
<circle cx="675.60" cy="231.45" r="4.18"/>
<circle cx="676.80" cy="231.45" r="4.18"/>
<circle cx="678.00" cy="231.45" r="4.18"/>
<circle cx="679.20" cy="231.45" r="4.18"/>
<circle cx="680.40" cy="231.45" r="4.18"/>
<circle cx="681.60" cy="231.45" r="4.18"/>
<circle cx="682.80" cy="231.45" r="4.18"/>
<circle cx="603.30" cy="172.10" r="4.18"/>
<circle cx="173.10" cy="358.70" r="4.18"/>
<circle cx="174.50" cy="358.70" r="4.18"/>
<circle cx="175.90" cy="358.70" r="4.18"/>
<circle cx="177.30" cy="358.70" r="4.18"/>
<circle cx="178.70" cy="358.70" r="4.18"/>
<circle cx="180.10" cy="358.70" r="4.18"/>
<circle cx="181.50" cy="358.70" r="4.18"/>
<circle cx="182.90" cy="358.70" r="4.18"/>
<circle cx="184.30" cy="358.70" r="4.18"/>
<circle cx="185.70" cy="358.70" r="4.18"/>
<circle cx="187.10" cy="358.64" r="4.18"/>
<circle cx="188.50" cy="358.53" r="4.18"/>
<circle cx="189.90" cy="358.42" r="4.18"/>
<circle cx="191.30" cy="358.31" r="4.18"/>
<circle cx="192.70" cy="358.20" r="4.18"/>
<circle cx="194.10" cy="358.09" r="4.18"/>
<circle cx="195.50" cy="357.98" r="4.18"/>
<circle cx="196.90" cy="357.87" r="4.18"/>
<circle cx="198.30" cy="357.76" r="4.18"/>
<circle cx="199.70" cy="357.66" r="4.18"/>
<circle cx="201.10" cy="357.55" r="4.18"/>
<circle cx="202.50" cy="357.10" r="4.18"/>
<circle cx="203.90" cy="356.40" r="4.18"/>
<circle cx="205.30" cy="355.70" r="4.18"/>
<circle cx="206.70" cy="355.18" r="4.18"/>
<circle cx="208.10" cy="355.10" r="4.18"/>
<circle cx="209.50" cy="355.02" r="4.18"/>
<circle cx="210.90" cy="355.34" r="4.18"/>
<circle cx="212.30" cy="355.82" r="4.18"/>
<circle cx="213.70" cy="356.31" r="4.18"/>
<circle cx="215.10" cy="356.83" r="4.18"/>
<circle cx="216.50" cy="357.34" r="4.18"/>
<circle cx="217.90" cy="357.85" r="4.18"/>
<circle cx="219.30" cy="358.37" r="4.18"/>
<circle cx="220.70" cy="358.23" r="4.18"/>
<circle cx="222.10" cy="356.92" r="4.18"/>
<circle cx="223.50" cy="355.62" r="4.18"/>
<circle cx="224.90" cy="354.34" r="4.18"/>
<circle cx="226.30" cy="353.52" r="4.18"/>
<circle cx="227.70" cy="352.69" r="4.18"/>
<circle cx="229.10" cy="352.63" r="4.18"/>
<circle cx="230.50" cy="354.50" r="4.18"/>
<circle cx="231.90" cy="356.37" r="4.18"/>
<circle cx="233.30" cy="356.19" r="4.18"/>
<circle cx="234.70" cy="355.44" r="4.18"/>
<circle cx="236.90" cy="351.00" r="4.18"/>
<circle cx="238.20" cy="347.60" r="4.18"/>
<circle cx="239.90" cy="344.10" r="4.18"/>
<circle cx="241.30" cy="340.50" r="4.18"/>
<circle cx="242.60" cy="337.20" r="4.18"/>
<circle cx="244.10" cy="333.90" r="4.18"/>
<circle cx="245.40" cy="330.60" r="4.18"/>
<circle cx="246.70" cy="327.50" r="4.18"/>
<circle cx="248.10" cy="324.40" r="4.18"/>
<circle cx="249.60" cy="321.10" r="4.18"/>
<circle cx="250.90" cy="318.00" r="4.18"/>
<circle cx="252.30" cy="314.90" r="4.18"/>
<circle cx="253.80" cy="312.40" r="4.18"/>
<circle cx="255.30" cy="310.30" r="4.18"/>
<circle cx="257.50" cy="307.50" r="4.18"/>
<circle cx="259.70" cy="305.30" r="4.18"/>
<circle cx="261.50" cy="302.60" r="4.18"/>
<circle cx="263.00" cy="300.90" r="4.18"/>
<circle cx="264.60" cy="300.00" r="4.18"/>
<circle cx="266.20" cy="299.70" r="4.18"/>
<circle cx="268.90" cy="315.10" r="4.18"/>
<circle cx="270.40" cy="350.60" r="4.18"/>
<circle cx="211.00" cy="347.90" r="4.18"/>
<circle cx="213.20" cy="349.60" r="4.18"/>
<circle cx="272.70" cy="359.00" r="4.18"/>
<circle cx="274.10" cy="358.01" r="4.18"/>
<circle cx="275.50" cy="357.03" r="4.18"/>
<circle cx="276.90" cy="356.04" r="4.18"/>
<circle cx="278.30" cy="355.06" r="4.18"/>
<circle cx="279.70" cy="354.04" r="4.18"/>
<circle cx="281.10" cy="353.03" r="4.18"/>
<circle cx="282.50" cy="352.02" r="4.18"/>
<circle cx="283.90" cy="350.81" r="4.18"/>
<circle cx="285.30" cy="349.09" r="4.18"/>
<circle cx="286.70" cy="347.06" r="4.18"/>
<circle cx="288.10" cy="340.94" r="4.18"/>
<circle cx="289.50" cy="334.52" r="4.18"/>
<circle cx="290.90" cy="327.23" r="4.18"/>
<circle cx="292.30" cy="320.50" r="4.18"/>
<circle cx="293.70" cy="318.06" r="4.18"/>
<circle cx="295.10" cy="317.85" r="4.18"/>
<circle cx="296.50" cy="317.63" r="4.18"/>
<circle cx="297.90" cy="317.97" r="4.18"/>
<circle cx="299.30" cy="318.39" r="4.18"/>
<circle cx="300.70" cy="318.82" r="4.18"/>
<circle cx="302.10" cy="319.18" r="4.18"/>
<circle cx="303.50" cy="319.50" r="4.18"/>
<circle cx="304.90" cy="319.81" r="4.18"/>
<circle cx="306.30" cy="320.13" r="4.18"/>
<circle cx="307.70" cy="320.41" r="4.18"/>
<circle cx="309.10" cy="320.52" r="4.18"/>
<circle cx="310.50" cy="320.62" r="4.18"/>
<circle cx="311.90" cy="320.73" r="4.18"/>
<circle cx="313.30" cy="320.48" r="4.18"/>
<circle cx="314.70" cy="319.38" r="4.18"/>
<circle cx="316.10" cy="318.27" r="4.18"/>
<circle cx="317.50" cy="316.69" r="4.18"/>
<circle cx="318.90" cy="314.75" r="4.18"/>
<circle cx="320.30" cy="313.07" r="4.18"/>
<circle cx="321.70" cy="311.88" r="4.18"/>
<circle cx="322.90" cy="325.90" r="4.18"/>
<circle cx="326.00" cy="331.30" r="4.18"/>
<circle cx="326.70" cy="324.30" r="4.18"/>
<circle cx="329.00" cy="321.30" r="4.18"/>
<circle cx="332.10" cy="317.40" r="4.18"/>
<circle cx="335.20" cy="315.90" r="4.18"/>
<circle cx="337.50" cy="320.50" r="4.18"/>
<circle cx="339.10" cy="324.30" r="4.18"/>
<circle cx="339.90" cy="328.20" r="4.18"/>
<circle cx="515.90" cy="352.00" r="4.18"/>
<circle cx="517.30" cy="349.00" r="4.18"/>
<circle cx="518.70" cy="347.50" r="4.18"/>
<circle cx="520.10" cy="347.50" r="4.18"/>
<circle cx="521.50" cy="347.50" r="4.18"/>
<circle cx="522.90" cy="347.50" r="4.18"/>
<circle cx="524.30" cy="347.50" r="4.18"/>
<circle cx="525.70" cy="347.50" r="4.18"/>
<circle cx="527.10" cy="347.50" r="4.18"/>
<circle cx="528.50" cy="347.99" r="4.18"/>
<circle cx="529.90" cy="351.40" r="4.18"/>
<circle cx="531.30" cy="351.40" r="4.18"/>
<circle cx="532.70" cy="351.40" r="4.18"/>
<circle cx="534.10" cy="351.40" r="4.18"/>
<circle cx="535.50" cy="351.40" r="4.18"/>
<circle cx="536.90" cy="351.40" r="4.18"/>
<circle cx="538.30" cy="351.40" r="4.18"/>
<circle cx="539.70" cy="355.30" r="4.18"/>
<circle cx="541.10" cy="355.30" r="4.18"/>
<circle cx="542.50" cy="355.30" r="4.18"/>
<circle cx="543.90" cy="355.30" r="4.18"/>
<circle cx="545.30" cy="355.30" r="4.18"/>
<circle cx="546.70" cy="358.80" r="4.18"/>
<circle cx="548.10" cy="358.80" r="4.18"/>
<circle cx="549.50" cy="358.80" r="4.18"/>
<circle cx="550.90" cy="358.80" r="4.18"/>
<circle cx="552.30" cy="358.80" r="4.18"/>
<circle cx="553.70" cy="358.80" r="4.18"/>
<circle cx="555.10" cy="358.80" r="4.18"/>
<circle cx="556.50" cy="358.80" r="4.18"/>
<circle cx="557.90" cy="358.80" r="4.18"/>
<circle cx="559.30" cy="358.80" r="4.18"/>
<circle cx="560.70" cy="358.80" r="4.18"/>
<circle cx="562.10" cy="358.80" r="4.18"/>
<circle cx="563.50" cy="358.80" r="4.18"/>
<circle cx="564.90" cy="358.80" r="4.18"/>
<circle cx="566.30" cy="358.80" r="4.18"/>
<circle cx="567.70" cy="358.80" r="4.18"/>
<circle cx="569.10" cy="358.80" r="4.18"/>
<circle cx="570.50" cy="358.80" r="4.18"/>
<circle cx="571.90" cy="358.80" r="4.18"/>
<circle cx="573.30" cy="358.80" r="4.18"/>
<circle cx="574.70" cy="358.80" r="4.18"/>
<circle cx="576.10" cy="358.80" r="4.18"/>
<circle cx="577.50" cy="358.80" r="4.18"/>
<circle cx="578.90" cy="357.45" r="4.18"/>
<circle cx="580.30" cy="355.20" r="4.18"/>
<circle cx="581.70" cy="355.20" r="4.18"/>
<circle cx="583.10" cy="355.20" r="4.18"/>
<circle cx="584.50" cy="355.20" r="4.18"/>
<circle cx="585.90" cy="355.20" r="4.18"/>
<circle cx="587.30" cy="355.20" r="4.18"/>
<circle cx="588.70" cy="355.20" r="4.18"/>
<circle cx="590.10" cy="355.20" r="4.18"/>
<circle cx="591.50" cy="355.20" r="4.18"/>
<circle cx="592.90" cy="355.20" r="4.18"/>
<circle cx="594.30" cy="355.20" r="4.18"/>
<circle cx="595.70" cy="351.40" r="4.18"/>
<circle cx="597.10" cy="348.08" r="4.18"/>
<circle cx="598.50" cy="347.60" r="4.18"/>
<circle cx="599.90" cy="347.60" r="4.18"/>
<circle cx="601.30" cy="343.70" r="4.18"/>
<circle cx="602.70" cy="342.80" r="4.18"/>
<circle cx="604.10" cy="345.69" r="4.18"/>
<circle cx="605.50" cy="346.95" r="4.18"/>
<circle cx="606.90" cy="346.86" r="4.18"/>
<circle cx="608.30" cy="346.00" r="4.18"/>
<circle cx="609.70" cy="343.60" r="4.18"/>
<circle cx="611.10" cy="343.60" r="4.18"/>
<circle cx="612.50" cy="343.60" r="4.18"/>
<circle cx="613.90" cy="343.60" r="4.18"/>
<circle cx="615.30" cy="343.60" r="4.18"/>
<circle cx="616.70" cy="343.60" r="4.18"/>
<circle cx="618.10" cy="343.60" r="4.18"/>
<circle cx="619.50" cy="343.60" r="4.18"/>
<circle cx="620.90" cy="343.60" r="4.18"/>
<circle cx="622.30" cy="343.60" r="4.18"/>
<circle cx="623.70" cy="343.60" r="4.18"/>
<circle cx="625.10" cy="343.60" r="4.18"/>
<circle cx="626.50" cy="341.82" r="4.18"/>
<circle cx="627.90" cy="338.26" r="4.18"/>
<circle cx="629.30" cy="334.61" r="4.18"/>
<circle cx="630.70" cy="331.20" r="4.18"/>
<circle cx="632.10" cy="331.20" r="4.18"/>
<circle cx="633.50" cy="331.20" r="4.18"/>
<circle cx="634.90" cy="331.20" r="4.18"/>
<circle cx="636.30" cy="331.20" r="4.18"/>
<circle cx="637.70" cy="331.20" r="4.18"/>
<circle cx="639.10" cy="331.20" r="4.18"/>
<circle cx="640.50" cy="331.20" r="4.18"/>
<circle cx="641.90" cy="331.20" r="4.18"/>
<circle cx="643.30" cy="327.72" r="4.18"/>
<circle cx="644.70" cy="327.40" r="4.18"/>
<circle cx="646.10" cy="327.40" r="4.18"/>
<circle cx="647.50" cy="327.40" r="4.18"/>
<circle cx="648.90" cy="327.40" r="4.18"/>
<circle cx="650.30" cy="327.40" r="4.18"/>
<circle cx="651.70" cy="327.40" r="4.18"/>
<circle cx="653.10" cy="327.40" r="4.18"/>
<circle cx="654.50" cy="321.72" r="4.18"/>
<circle cx="655.90" cy="319.13" r="4.18"/>
<circle cx="657.30" cy="316.61" r="4.18"/>
<circle cx="658.70" cy="314.35" r="4.18"/>
<circle cx="660.10" cy="311.83" r="4.18"/>
<circle cx="661.50" cy="309.22" r="4.18"/>
<circle cx="662.90" cy="307.05" r="4.18"/>
<circle cx="664.30" cy="303.99" r="4.18"/>
<circle cx="665.70" cy="300.40" r="4.18"/>
<circle cx="667.10" cy="299.10" r="4.18"/>
<circle cx="667.30" cy="299.10" r="4.18"/>
<circle cx="669.20" cy="299.10" r="4.18"/>
<circle cx="670.80" cy="299.10" r="4.18"/>
<circle cx="672.40" cy="299.30" r="4.18"/>
<circle cx="674.10" cy="302.50" r="4.18"/>
<circle cx="676.50" cy="305.50" r="4.18"/>
<circle cx="679.30" cy="307.70" r="4.18"/>
<circle cx="681.00" cy="304.50" r="4.18"/>
<circle cx="682.70" cy="299.10" r="4.18"/>
<circle cx="173.10" cy="487.20" r="4.18"/>
<circle cx="174.50" cy="487.20" r="4.18"/>
<circle cx="175.90" cy="487.20" r="4.18"/>
<circle cx="177.30" cy="487.20" r="4.18"/>
<circle cx="178.70" cy="487.20" r="4.18"/>
<circle cx="180.10" cy="487.20" r="4.18"/>
<circle cx="181.50" cy="487.20" r="4.18"/>
<circle cx="182.90" cy="487.20" r="4.18"/>
<circle cx="184.30" cy="487.20" r="4.18"/>
<circle cx="185.70" cy="487.20" r="4.18"/>
<circle cx="187.10" cy="487.20" r="4.18"/>
<circle cx="188.50" cy="487.20" r="4.18"/>
<circle cx="189.90" cy="487.20" r="4.18"/>
<circle cx="191.30" cy="487.20" r="4.18"/>
<circle cx="192.70" cy="487.20" r="4.18"/>
<circle cx="194.30" cy="485.60" r="4.18"/>
<circle cx="196.00" cy="484.60" r="4.18"/>
<circle cx="197.80" cy="483.60" r="4.18"/>
<circle cx="199.50" cy="482.60" r="4.18"/>
<circle cx="201.20" cy="481.30" r="4.18"/>
<circle cx="203.00" cy="476.50" r="4.18"/>
<circle cx="204.40" cy="471.50" r="4.18"/>
<circle cx="205.60" cy="467.50" r="4.18"/>
<circle cx="207.00" cy="466.00" r="4.18"/>
<circle cx="208.70" cy="470.60" r="4.18"/>
<circle cx="210.30" cy="475.20" r="4.18"/>
<circle cx="211.80" cy="479.10" r="4.18"/>
<circle cx="213.60" cy="477.50" r="4.18"/>
<circle cx="215.40" cy="473.50" r="4.18"/>
<circle cx="217.60" cy="467.50" r="4.18"/>
<circle cx="219.30" cy="466.00" r="4.18"/>
<circle cx="220.20" cy="460.50" r="4.18"/>
<circle cx="221.90" cy="467.70" r="4.18"/>
<circle cx="223.50" cy="476.80" r="4.18"/>
<circle cx="225.00" cy="483.00" r="4.18"/>
<circle cx="226.50" cy="487.20" r="4.18"/>
<circle cx="227.90" cy="487.20" r="4.18"/>
<circle cx="229.30" cy="487.20" r="4.18"/>
<circle cx="230.70" cy="487.20" r="4.18"/>
<circle cx="232.10" cy="487.20" r="4.18"/>
<circle cx="233.50" cy="487.20" r="4.18"/>
<circle cx="234.90" cy="487.20" r="4.18"/>
<circle cx="236.30" cy="487.20" r="4.18"/>
<circle cx="237.70" cy="487.20" r="4.18"/>
<circle cx="239.10" cy="487.20" r="4.18"/>
<circle cx="240.50" cy="487.20" r="4.18"/>
<circle cx="241.90" cy="487.20" r="4.18"/>
<circle cx="243.30" cy="487.20" r="4.18"/>
<circle cx="244.70" cy="487.20" r="4.18"/>
<circle cx="246.10" cy="487.20" r="4.18"/>
<circle cx="247.50" cy="487.20" r="4.18"/>
<circle cx="248.90" cy="487.20" r="4.18"/>
<circle cx="250.30" cy="487.20" r="4.18"/>
<circle cx="251.70" cy="487.20" r="4.18"/>
<circle cx="253.10" cy="487.20" r="4.18"/>
<circle cx="254.50" cy="487.20" r="4.18"/>
<circle cx="255.90" cy="487.20" r="4.18"/>
<circle cx="257.30" cy="487.20" r="4.18"/>
<circle cx="258.70" cy="487.20" r="4.18"/>
<circle cx="260.10" cy="487.20" r="4.18"/>
<circle cx="261.50" cy="487.20" r="4.18"/>
<circle cx="262.90" cy="487.20" r="4.18"/>
<circle cx="264.30" cy="487.20" r="4.18"/>
<circle cx="265.70" cy="487.20" r="4.18"/>
<circle cx="267.10" cy="487.20" r="4.18"/>
<circle cx="268.50" cy="487.20" r="4.18"/>
<circle cx="269.90" cy="487.20" r="4.18"/>
<circle cx="271.30" cy="487.20" r="4.18"/>
<circle cx="272.70" cy="487.20" r="4.18"/>
<circle cx="274.10" cy="487.20" r="4.18"/>
<circle cx="275.50" cy="487.20" r="4.18"/>
<circle cx="276.90" cy="487.20" r="4.18"/>
<circle cx="278.30" cy="487.20" r="4.18"/>
<circle cx="279.70" cy="487.20" r="4.18"/>
<circle cx="281.10" cy="487.20" r="4.18"/>
<circle cx="282.50" cy="487.20" r="4.18"/>
<circle cx="283.90" cy="487.20" r="4.18"/>
<circle cx="285.30" cy="487.20" r="4.18"/>
<circle cx="286.70" cy="487.20" r="4.18"/>
<circle cx="288.10" cy="487.20" r="4.18"/>
<circle cx="289.50" cy="487.20" r="4.18"/>
<circle cx="290.90" cy="487.20" r="4.18"/>
<circle cx="292.30" cy="487.20" r="4.18"/>
<circle cx="293.70" cy="487.20" r="4.18"/>
<circle cx="295.10" cy="487.20" r="4.18"/>
<circle cx="296.50" cy="487.20" r="4.18"/>
<circle cx="297.90" cy="487.20" r="4.18"/>
<circle cx="299.30" cy="487.20" r="4.18"/>
<circle cx="300.70" cy="487.20" r="4.18"/>
<circle cx="302.10" cy="487.20" r="4.18"/>
<circle cx="303.50" cy="487.20" r="4.18"/>
<circle cx="304.90" cy="487.20" r="4.18"/>
<circle cx="306.30" cy="487.20" r="4.18"/>
<circle cx="307.70" cy="487.20" r="4.18"/>
<circle cx="309.10" cy="487.20" r="4.18"/>
<circle cx="310.50" cy="487.20" r="4.18"/>
<circle cx="311.90" cy="487.20" r="4.18"/>
<circle cx="313.30" cy="487.20" r="4.18"/>
<circle cx="314.70" cy="487.20" r="4.18"/>
<circle cx="316.10" cy="487.20" r="4.18"/>
<circle cx="317.50" cy="487.20" r="4.18"/>
<circle cx="318.90" cy="487.20" r="4.18"/>
<circle cx="320.30" cy="487.20" r="4.18"/>
<circle cx="321.70" cy="487.20" r="4.18"/>
<circle cx="323.10" cy="487.20" r="4.18"/>
<circle cx="324.10" cy="451.30" r="4.18"/>
<circle cx="325.70" cy="437.40" r="4.18"/>
<circle cx="328.00" cy="438.20" r="4.18"/>
<circle cx="329.50" cy="430.40" r="4.18"/>
<circle cx="331.10" cy="449.00" r="4.18"/>
<circle cx="331.90" cy="436.60" r="4.18"/>
<circle cx="334.20" cy="433.50" r="4.18"/>
<circle cx="336.50" cy="442.00" r="4.18"/>
<circle cx="338.00" cy="448.20" r="4.18"/>
<circle cx="340.30" cy="427.40" r="4.18"/>
<circle cx="516.20" cy="476.70" r="4.18"/>
<circle cx="517.60" cy="478.09" r="4.18"/>
<circle cx="519.00" cy="479.47" r="4.18"/>
<circle cx="520.40" cy="480.86" r="4.18"/>
<circle cx="521.80" cy="482.25" r="4.18"/>
<circle cx="523.20" cy="483.64" r="4.18"/>
<circle cx="524.60" cy="485.02" r="4.18"/>
<circle cx="526.00" cy="486.41" r="4.18"/>
<circle cx="527.40" cy="487.40" r="4.18"/>
<circle cx="528.80" cy="487.40" r="4.18"/>
<circle cx="530.20" cy="487.40" r="4.18"/>
<circle cx="531.60" cy="486.39" r="4.18"/>
<circle cx="533.00" cy="484.04" r="4.18"/>
<circle cx="534.40" cy="481.69" r="4.18"/>
<circle cx="535.80" cy="479.34" r="4.18"/>
<circle cx="537.20" cy="476.90" r="4.18"/>
<circle cx="538.60" cy="474.45" r="4.18"/>
<circle cx="540.00" cy="472.00" r="4.18"/>
<circle cx="541.40" cy="468.92" r="4.18"/>
<circle cx="542.80" cy="465.00" r="4.18"/>
<circle cx="544.20" cy="461.40" r="4.18"/>
<circle cx="545.60" cy="458.60" r="4.18"/>
<circle cx="547.00" cy="456.08" r="4.18"/>
<circle cx="548.40" cy="455.24" r="4.18"/>
<circle cx="549.80" cy="454.40" r="4.18"/>
<circle cx="551.20" cy="455.10" r="4.18"/>
<circle cx="552.60" cy="455.80" r="4.18"/>
<circle cx="554.00" cy="460.40" r="4.18"/>
<circle cx="555.40" cy="466.52" r="4.18"/>
<circle cx="556.80" cy="469.88" r="4.18"/>
<circle cx="558.20" cy="472.40" r="4.18"/>
<circle cx="559.60" cy="473.80" r="4.18"/>
<circle cx="561.00" cy="475.20" r="4.18"/>
<circle cx="562.40" cy="476.60" r="4.18"/>
<circle cx="563.80" cy="478.04" r="4.18"/>
<circle cx="565.20" cy="479.72" r="4.18"/>
<circle cx="566.60" cy="481.40" r="4.18"/>
<circle cx="568.00" cy="483.08" r="4.18"/>
<circle cx="569.40" cy="484.76" r="4.18"/>
<circle cx="570.80" cy="486.20" r="4.18"/>
<circle cx="572.20" cy="487.36" r="4.18"/>
<circle cx="573.60" cy="487.08" r="4.18"/>
<circle cx="575.00" cy="485.90" r="4.18"/>
<circle cx="576.40" cy="484.36" r="4.18"/>
<circle cx="577.80" cy="482.82" r="4.18"/>
<circle cx="579.20" cy="480.20" r="4.18"/>
<circle cx="580.60" cy="477.40" r="4.18"/>
<circle cx="582.00" cy="474.60" r="4.18"/>
<circle cx="583.40" cy="470.90" r="4.18"/>
<circle cx="584.80" cy="466.00" r="4.18"/>
<circle cx="586.20" cy="461.60" r="4.18"/>
<circle cx="587.60" cy="457.40" r="4.18"/>
<circle cx="589.00" cy="455.65" r="4.18"/>
<circle cx="590.40" cy="454.60" r="4.18"/>
<circle cx="591.80" cy="455.30" r="4.18"/>
<circle cx="593.20" cy="456.00" r="4.18"/>
<circle cx="594.60" cy="460.87" r="4.18"/>
<circle cx="596.00" cy="466.04" r="4.18"/>
<circle cx="597.40" cy="469.40" r="4.18"/>
<circle cx="598.80" cy="472.20" r="4.18"/>
<circle cx="600.20" cy="473.60" r="4.18"/>
<circle cx="601.60" cy="475.00" r="4.18"/>
<circle cx="603.00" cy="476.40" r="4.18"/>
<circle cx="604.40" cy="477.80" r="4.18"/>
<circle cx="605.80" cy="479.20" r="4.18"/>
<circle cx="607.20" cy="480.60" r="4.18"/>
<circle cx="608.60" cy="482.00" r="4.18"/>
<circle cx="610.00" cy="483.40" r="4.18"/>
<circle cx="611.40" cy="484.80" r="4.18"/>
<circle cx="612.80" cy="485.96" r="4.18"/>
<circle cx="614.20" cy="487.08" r="4.18"/>
<circle cx="615.90" cy="487.00" r="4.18"/>
<circle cx="617.30" cy="485.80" r="4.18"/>
<circle cx="618.60" cy="483.80" r="4.18"/>
<circle cx="619.70" cy="481.70" r="4.18"/>
<circle cx="621.00" cy="479.50" r="4.18"/>
<circle cx="622.30" cy="477.20" r="4.18"/>
<circle cx="623.60" cy="474.00" r="4.18"/>
<circle cx="624.90" cy="470.80" r="4.18"/>
<circle cx="626.10" cy="466.90" r="4.18"/>
<circle cx="627.70" cy="453.70" r="4.18"/>
<circle cx="629.40" cy="441.20" r="4.18"/>
<circle cx="631.30" cy="427.70" r="4.18"/>
<circle cx="632.90" cy="428.80" r="4.18"/>
<circle cx="634.50" cy="430.30" r="4.18"/>
<circle cx="636.40" cy="438.00" r="4.18"/>
<circle cx="638.30" cy="451.50" r="4.18"/>
<circle cx="639.00" cy="458.60" r="4.18"/>
<circle cx="640.30" cy="461.80" r="4.18"/>
<circle cx="641.80" cy="465.00" r="4.18"/>
<circle cx="643.50" cy="468.80" r="4.18"/>
<circle cx="644.80" cy="472.10" r="4.18"/>
<circle cx="646.10" cy="475.30" r="4.18"/>
<circle cx="647.30" cy="478.50" r="4.18"/>
<circle cx="648.30" cy="480.50" r="4.18"/>
<circle cx="649.30" cy="482.30" r="4.18"/>
<circle cx="650.50" cy="484.30" r="4.18"/>
<circle cx="651.80" cy="486.20" r="4.18"/>
<circle cx="653.10" cy="487.20" r="4.18"/>
<circle cx="654.40" cy="487.40" r="4.18"/>
<circle cx="655.80" cy="487.40" r="4.18"/>
<circle cx="657.20" cy="487.40" r="4.18"/>
<circle cx="658.60" cy="487.40" r="4.18"/>
<circle cx="660.00" cy="487.40" r="4.18"/>
<circle cx="661.40" cy="487.40" r="4.18"/>
<circle cx="662.60" cy="487.00" r="4.18"/>
<circle cx="663.80" cy="486.00" r="4.18"/>
<circle cx="664.90" cy="484.50" r="4.18"/>
<circle cx="666.10" cy="482.00" r="4.18"/>
<circle cx="667.60" cy="477.30" r="4.18"/>
<circle cx="669.20" cy="461.30" r="4.18"/>
<circle cx="670.70" cy="447.40" r="4.18"/>
<circle cx="673.00" cy="435.80" r="4.18"/>
<circle cx="676.10" cy="453.60" r="4.18"/>
<circle cx="676.10" cy="444.30" r="4.18"/>
<circle cx="677.40" cy="445.70" r="4.18"/>
<circle cx="680.00" cy="438.20" r="4.18"/>
<circle cx="681.50" cy="445.10" r="4.18"/>
<circle cx="683.10" cy="458.20" r="4.18"/>
</g>
<text transform="translate(84.00,126.20) rotate(-90)" font-size="20.60" textLength="102.15" lengthAdjust="spacingAndGlyphs" fill="#262626">PRESSURE</text>
<text transform="translate(438.50,107.20) rotate(-90)" font-size="20.60" textLength="65.65" lengthAdjust="spacingAndGlyphs" fill="#262626">THETA</text>
<text transform="translate(86.00,245.20) rotate(-90)" font-size="20.60" textLength="33.15" lengthAdjust="spacingAndGlyphs" fill="#262626">AIR</text>
<text transform="translate(96.25,210.45) rotate(-90)" font-size="16.50" textLength="8.40" lengthAdjust="spacingAndGlyphs" fill="#262626">T</text>
<text transform="translate(86.00,200.95) rotate(-90)" font-size="20.60" textLength="43.40" lengthAdjust="spacingAndGlyphs" fill="#262626">EMP</text>
<text transform="translate(434.00,250.95) rotate(-90)" font-size="20.60" textLength="96.65" lengthAdjust="spacingAndGlyphs" fill="#262626">RAINFALL</text>
<text transform="translate(84.75,384.20) rotate(-90)" font-size="20.60" textLength="108.40" lengthAdjust="spacingAndGlyphs" fill="#262626">MIXDEPTH</text>
<text transform="translate(444.50,384.95) rotate(-90)" font-size="20.60" textLength="110.65" lengthAdjust="spacingAndGlyphs" fill="#262626">H2OMIXRA</text>
<text transform="translate(86.25,501.95) rotate(-90)" font-size="20.60" textLength="49.40" lengthAdjust="spacingAndGlyphs" fill="#262626">TERR</text>
<text transform="translate(96.50,452.95) rotate(-90)" font-size="16.50" textLength="17.15" lengthAdjust="spacingAndGlyphs" fill="#262626">M</text>
<text transform="translate(86.00,435.95) rotate(-90)" font-size="20.60" textLength="23.40" lengthAdjust="spacingAndGlyphs" fill="#262626">SL</text>
<text transform="translate(398.75,504.20) rotate(-90)" font-size="20.60" textLength="41.90" lengthAdjust="spacingAndGlyphs" fill="#262626">SUN</text>
<text transform="translate(408.25,458.95) rotate(-90)" font-size="16.50" textLength="9.90" lengthAdjust="spacingAndGlyphs" fill="#262626">F</text>
<text transform="translate(398.75,449.70) rotate(-90)" font-size="20.60" textLength="38.40" lengthAdjust="spacingAndGlyphs" fill="#262626">LUX</text>
<text x="226.30" y="575.75" font-size="20.60" textLength="49.90" lengthAdjust="spacingAndGlyphs" fill="#262626">Time</text>
<text x="569.55" y="575.75" font-size="20.60" textLength="49.65" lengthAdjust="spacingAndGlyphs" fill="#262626">Time</text>
<text x="185.55" y="32.30" font-size="21.40" font-weight="bold" textLength="130.15" lengthAdjust="spacingAndGlyphs" fill="#000">Figure 1 low</text>
</svg>
</body></html>
